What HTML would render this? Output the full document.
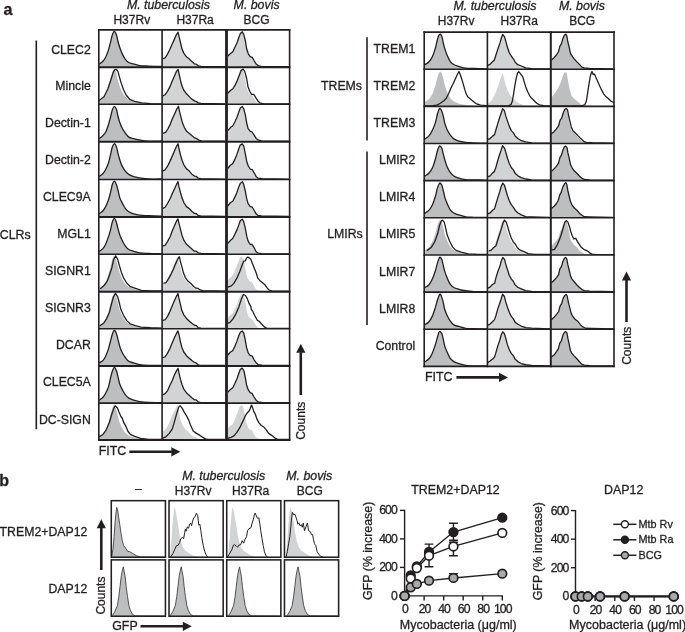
<!DOCTYPE html>
<html lang="en"><head><meta charset="utf-8"><title>Figure</title>
<style>html,body{margin:0;padding:0;background:#fff}body{width:685px;height:632px;overflow:hidden}svg{display:block}text{font-family:"Liberation Sans", Arial, Helvetica, sans-serif;fill:#231f20;stroke:#231f20;stroke-width:0.3px;stroke-linejoin:round}.t{font-size:12px}.i{font-size:12.35px;font-style:italic}.b{font-size:16px;font-weight:bold}.k{font-size:12.2px;letter-spacing:-0.9px}.r{font-size:12.3px}.g{font-size:12.4px}.x{font-size:12.5px}.lg{font-size:10.8px}</style></head><body>
<svg width="685" height="632" viewBox="0 0 685 632">
<rect width="685" height="632" fill="#fff"/>
<svg x="98.8" y="29.9" width="63.3" height="37.1" viewBox="98.8 29.9 63.3 37.1" overflow="hidden">
<g transform="translate(98.8 29.9)"><path d="M-0.1 34.31 L0.7 34.01C1.27 33.56 3.05 32.48 4.1 31.31C5.14 30.14 6.06 28.82 6.97 27.02C7.88 25.21 8.79 22.84 9.56 20.47C10.33 18.1 10.93 15.39 11.6 12.8C12.27 10.21 12.93 6.8 13.58 4.91C14.23 3.02 14.79 1.4 15.48 1.44C16.16 1.48 17.11 3.57 17.7 5.14C18.29 6.71 18.44 8.68 19.02 10.85C19.59 13.01 20.39 15.94 21.13 18.13C21.88 20.32 22.6 22.14 23.47 23.98C24.34 25.83 25.29 27.77 26.36 29.21C27.44 30.65 28.53 31.81 29.94 32.63C31.34 33.44 32.94 33.58 34.79 34.09C36.63 34.6 38.49 35.34 40.99 35.69C43.5 36.04 46.21 36.06 49.82 36.21C53.44 36.36 60.55 36.54 62.7 36.6L62.7 37.1 L-0.1 37.1 Z" fill="#bcbec0"/><path d="M0.7 34.01C1.27 33.56 3.05 32.48 4.1 31.31C5.14 30.14 6.06 28.82 6.97 27.02C7.88 25.21 8.79 22.84 9.56 20.47C10.33 18.1 10.93 15.39 11.6 12.8C12.27 10.21 12.93 6.8 13.58 4.91C14.23 3.02 14.79 1.4 15.48 1.44C16.16 1.48 17.11 3.57 17.7 5.14C18.29 6.71 18.44 8.68 19.02 10.85C19.59 13.01 20.39 15.94 21.13 18.13C21.88 20.32 22.6 22.14 23.47 23.98C24.34 25.83 25.29 27.77 26.36 29.21C27.44 30.65 28.53 31.81 29.94 32.63C31.34 33.44 32.94 33.58 34.79 34.09C36.63 34.6 38.49 35.34 40.99 35.69C43.5 36.04 46.21 36.06 49.82 36.21C53.44 36.36 60.55 36.54 62.7 36.6" fill="none" stroke="#231f20" stroke-width="1.3" stroke-linejoin="round" stroke-linecap="round"/></g>
</svg>
<svg x="162.1" y="29.9" width="64.4" height="37.1" viewBox="162.1 29.9 64.4 37.1" overflow="hidden">
<g transform="translate(162.1 29.9)"><path d="M0 29.02 L0.8 28.72L2.96 28.01L5.27 24.46L7.81 19.28L9.88 14.67L12.43 8.96L14.34 4.66L15.96 2.37L16.92 6.43L18.51 13.08L19.74 18.69L21.69 23.23L24.38 26.88L27.3 29.21L29.85 31.64L32.32 33.87L34.14 34.33L36.23 35.92L38.69 36.55L62.5 36.7L62.5 37.1 L0 37.1 Z" fill="#d1d3d4"/><path d="M0.8 28.72L2.96 28.01L5.27 24.46L7.81 19.28L9.88 14.67L12.43 8.96L14.34 4.66L15.96 2.37L16.92 6.43L18.51 13.08L19.74 18.69L21.69 23.23L24.38 26.88L27.3 29.21L29.85 31.64L32.32 33.87L34.14 34.33L36.23 35.92L38.69 36.55L62.5 36.7" fill="none" stroke="#231f20" stroke-width="1.3" stroke-linejoin="round" stroke-linecap="round"/></g>
</svg>
<svg x="226.5" y="29.9" width="63.1" height="37.1" viewBox="226.5 29.9 63.1 37.1" overflow="hidden">
<g transform="translate(226.5 29.9)"><path d="M0.8 26.23 L1.6 25.93L4.03 23.64L6.35 21.73L8.36 17.29L10.45 13.15L12.24 7.77L13.85 3.62L15.79 1.91L17.19 4.49L18.88 10.81L20.12 18.83L21.81 23.87L23.68 26.68L25.82 27.46L27.81 31.11L29.67 34.17L31.82 35.72L35 36.78L62 36.7L62 37.1 L0.8 37.1 Z" fill="#d1d3d4"/><path d="M1.6 25.93L4.03 23.64L6.35 21.73L8.36 17.29L10.45 13.15L12.24 7.77L13.85 3.62L15.79 1.91L17.19 4.49L18.88 10.81L20.12 18.83L21.81 23.87L23.68 26.68L25.82 27.46L27.81 31.11L29.67 34.17L31.82 35.72L35 36.78L62 36.7" fill="none" stroke="#231f20" stroke-width="1.3" stroke-linejoin="round" stroke-linecap="round"/></g>
</svg>
<svg x="98.8" y="67" width="63.3" height="37.3" viewBox="98.8 67 63.3 37.3" overflow="hidden">
<g transform="translate(98.8 67)"><path d="M0.05 34.49 L0.85 34.19L4.17 31.39L7.05 26.91L9.41 20.61L11.4 12.84L13.38 5.14L15.36 1.98L17.28 5.22L18.57 11.24L20.62 18.39L23.05 24.29L25.85 29.01L29.31 32.35L33.9 34.23L39.75 35.82L48.35 36.5L60.99 36.8L60.99 37.3 L0.05 37.3 Z" fill="#bcbec0"/><path d="M0.7 33.29L5.2 29.78L9.1 21.76L12.1 12.83L14.6 4.91L16.1 2.71L17.6 2.41L19.1 4.41L20.6 9.83L22.5 16.34L24.5 22.26L27.5 28.28L31 32.29L35.9 34.29L42.9 35.9L51.8 36.6L62.7 36.8" fill="none" stroke="#231f20" stroke-width="1.3" stroke-linejoin="round" stroke-linecap="round"/></g>
</svg>
<svg x="162.1" y="67" width="64.4" height="37.3" viewBox="162.1 67 64.4 37.3" overflow="hidden">
<g transform="translate(162.1 67)"><path d="M0 29.18 L0.8 28.88L2.9 27.77L5.36 24.33L8.01 19.37L9.79 14.71L12.35 8.98L14.29 4.63L16.05 2.42L16.9 6.6L18.28 12.89L19.73 18.56L21.7 23.26L24.44 26.79L27.19 29.6L29.66 32.11L32.44 33.91L34.26 34.51L36.16 35.85L38.78 36.5L62.5 36.9L62.5 37.3 L0 37.3 Z" fill="#d1d3d4"/><path d="M0.8 28.88L2.9 27.77L5.36 24.33L8.01 19.37L9.79 14.71L12.35 8.98L14.29 4.63L16.05 2.42L16.9 6.6L18.28 12.89L19.73 18.56L21.7 23.26L24.44 26.79L27.19 29.6L29.66 32.11L32.44 33.91L34.26 34.51L36.16 35.85L38.78 36.5L62.5 36.9" fill="none" stroke="#231f20" stroke-width="1.3" stroke-linejoin="round" stroke-linecap="round"/></g>
</svg>
<svg x="226.5" y="67" width="63.1" height="37.3" viewBox="226.5 67 63.1 37.3" overflow="hidden">
<g transform="translate(226.5 67)"><path d="M1.02 26.37 L1.82 26.07L4.14 23.58L6.3 21.76L8.46 17.83L10.35 13.35L12.27 7.81L13.66 3.55L15.46 2.12L16.99 4.43L18.56 10.98L19.85 19.43L21.46 24.33L23.22 27.35L25.12 27.41L27.05 30.9L29.2 34.57L31.01 36.2L34.41 36.79L60.41 36.9L60.41 37.3 L1.02 37.3 Z" fill="#d1d3d4"/><path d="M1.37 26.07L3.95 23.58L6.36 21.76L8.77 17.83L10.87 13.35L13.01 7.81L14.55 3.55L16.56 2.12L18.26 4.43L20.01 10.98L21.44 19.43L23.24 24.33L25.2 27.35L27.31 27.41L29.46 30.9L31.85 34.57L33.87 36.2L37.65 36.79L66.6 36.9" fill="none" stroke="#231f20" stroke-width="1.3" stroke-linejoin="round" stroke-linecap="round"/></g>
</svg>
<svg x="98.8" y="104.3" width="63.3" height="37.2" viewBox="98.8 104.3 63.3 37.2" overflow="hidden">
<g transform="translate(98.8 104.3)"><path d="M-0.1 34.4 L0.7 34.1C1.29 33.63 3.17 32.39 4.25 31.25C5.33 30.11 6.29 29.01 7.18 27.25C8.08 25.48 8.84 23.04 9.59 20.65C10.34 18.26 11 15.5 11.69 12.91C12.37 10.32 13.04 6.92 13.69 5.1C14.34 3.28 14.89 1.98 15.57 1.98C16.24 1.99 17.16 3.6 17.73 5.14C18.31 6.68 18.47 9.11 19 11.23C19.53 13.36 20.13 15.71 20.9 17.88C21.66 20.04 22.64 22.42 23.59 24.24C24.54 26.06 25.52 27.36 26.6 28.79C27.67 30.21 28.66 31.87 30.05 32.79C31.43 33.71 33.13 33.83 34.91 34.31C36.7 34.79 38.27 35.27 40.75 35.68C43.24 36.09 46.19 36.61 49.84 36.78C53.5 36.95 60.56 36.71 62.7 36.7L62.7 37.2 L-0.1 37.2 Z" fill="#bcbec0"/><path d="M0.7 34.1C1.29 33.63 3.17 32.39 4.25 31.25C5.33 30.11 6.29 29.01 7.18 27.25C8.08 25.48 8.84 23.04 9.59 20.65C10.34 18.26 11 15.5 11.69 12.91C12.37 10.32 13.04 6.92 13.69 5.1C14.34 3.28 14.89 1.98 15.57 1.98C16.24 1.99 17.16 3.6 17.73 5.14C18.31 6.68 18.47 9.11 19 11.23C19.53 13.36 20.13 15.71 20.9 17.88C21.66 20.04 22.64 22.42 23.59 24.24C24.54 26.06 25.52 27.36 26.6 28.79C27.67 30.21 28.66 31.87 30.05 32.79C31.43 33.71 33.13 33.83 34.91 34.31C36.7 34.79 38.27 35.27 40.75 35.68C43.24 36.09 46.19 36.61 49.84 36.78C53.5 36.95 60.56 36.71 62.7 36.7" fill="none" stroke="#231f20" stroke-width="1.3" stroke-linejoin="round" stroke-linecap="round"/></g>
</svg>
<svg x="162.1" y="104.3" width="64.4" height="37.2" viewBox="162.1 104.3 64.4 37.2" overflow="hidden">
<g transform="translate(162.1 104.3)"><path d="M0 29.1 L0.8 28.8L3.13 28.02L5.51 24.46L7.81 19.8L9.84 14.45L12.43 8.94L14.38 4.56L16.02 1.98L16.89 6.51L18.52 13.15L19.93 18.55L21.81 23L24.16 27.01L27.2 29.46L29.89 31.7L32.29 33.6L34.22 34.34L36.21 35.8L38.79 36.63L62.5 36.8L62.5 37.2 L0 37.2 Z" fill="#d1d3d4"/><path d="M1.2 28.8L3.53 28.02L5.91 24.46L8.21 19.8L10.24 14.45L12.83 8.94L14.78 4.56L16.42 1.98L17.29 6.51L18.92 13.15L20.33 18.55L22.21 23L24.56 27.01L27.6 29.46L30.29 31.7L32.69 33.6L34.62 34.34L36.61 35.8L39.19 36.63L62.9 36.8" fill="none" stroke="#231f20" stroke-width="1.3" stroke-linejoin="round" stroke-linecap="round"/></g>
</svg>
<svg x="226.5" y="104.3" width="63.1" height="37.2" viewBox="226.5 104.3 63.1 37.2" overflow="hidden">
<g transform="translate(226.5 104.3)"><path d="M0.8 26.3 L1.6 26L3.92 23.26L6.23 21.65L8.3 17.76L10.38 13.14L12.28 7.85L13.8 3.77L15.86 2.21L17.31 4.67L18.93 11.09L20.31 19.22L21.63 24.27L23.83 27.04L25.59 27.7L27.68 30.77L29.62 34.14L31.75 35.64L35.22 36.77L62 36.8L62 37.2 L0.8 37.2 Z" fill="#d1d3d4"/><path d="M1.6 26L3.92 23.26L6.23 21.65L8.3 17.76L10.38 13.14L12.28 7.85L13.8 3.77L15.86 2.21L17.31 4.67L18.93 11.09L20.31 19.22L21.63 24.27L23.83 27.04L25.59 27.7L27.68 30.77L29.62 34.14L31.75 35.64L35.22 36.77L62 36.8" fill="none" stroke="#231f20" stroke-width="1.3" stroke-linejoin="round" stroke-linecap="round"/></g>
</svg>
<svg x="98.8" y="141.5" width="63.3" height="38" viewBox="98.8 141.5 63.3 38" overflow="hidden">
<g transform="translate(98.8 141.5)"><path d="M-0.1 35.13 L0.7 34.83C1.29 34.36 3.22 33.16 4.26 31.97C5.31 30.77 6.08 29.48 6.99 27.68C7.91 25.88 8.95 23.59 9.74 21.18C10.53 18.76 11.09 15.86 11.74 13.21C12.38 10.56 12.94 7.11 13.6 5.25C14.26 3.39 15.04 2.06 15.7 2.04C16.36 2.01 17.02 3.55 17.58 5.1C18.14 6.66 18.49 9.15 19.05 11.35C19.61 13.55 20.23 16.09 20.95 18.3C21.66 20.52 22.43 22.76 23.36 24.65C24.28 26.54 25.38 28.28 26.48 29.66C27.58 31.03 28.55 31.98 29.95 32.9C31.35 33.83 33.05 34.63 34.9 35.22C36.75 35.8 38.54 36.03 41.05 36.4C43.55 36.78 46.33 37.28 49.94 37.46C53.55 37.64 60.57 37.48 62.7 37.49L62.7 38 L-0.1 38 Z" fill="#bcbec0"/><path d="M0.7 34.83C1.29 34.36 3.22 33.16 4.26 31.97C5.31 30.77 6.08 29.48 6.99 27.68C7.91 25.88 8.95 23.59 9.74 21.18C10.53 18.76 11.09 15.86 11.74 13.21C12.38 10.56 12.94 7.11 13.6 5.25C14.26 3.39 15.04 2.06 15.7 2.04C16.36 2.01 17.02 3.55 17.58 5.1C18.14 6.66 18.49 9.15 19.05 11.35C19.61 13.55 20.23 16.09 20.95 18.3C21.66 20.52 22.43 22.76 23.36 24.65C24.28 26.54 25.38 28.28 26.48 29.66C27.58 31.03 28.55 31.98 29.95 32.9C31.35 33.83 33.05 34.63 34.9 35.22C36.75 35.8 38.54 36.03 41.05 36.4C43.55 36.78 46.33 37.28 49.94 37.46C53.55 37.64 60.57 37.48 62.7 37.49" fill="none" stroke="#231f20" stroke-width="1.3" stroke-linejoin="round" stroke-linecap="round"/></g>
</svg>
<svg x="162.1" y="141.5" width="64.4" height="38" viewBox="162.1 141.5 64.4 38" overflow="hidden">
<g transform="translate(162.1 141.5)"><path d="M0 29.72 L0.8 29.42L2.93 28.36L5.48 24.74L7.79 19.88L10.02 14.87L12.33 9.49L14.53 4.59L15.96 2.29L16.77 6.49L18.38 13.5L19.93 18.74L21.89 23.58L24.41 27.33L27.41 29.87L29.75 32.66L32.43 34.56L34.09 34.79L36.12 36.69L38.6 37.15L62.5 37.59L62.5 38 L0 38 Z" fill="#d1d3d4"/><path d="M0.8 29.42L2.93 28.36L5.48 24.74L7.79 19.88L10.02 14.87L12.33 9.49L14.53 4.59L15.96 2.29L16.77 6.49L18.38 13.5L19.93 18.74L21.89 23.58L24.41 27.33L27.41 29.87L29.75 32.66L32.43 34.56L34.09 34.79L36.12 36.69L38.6 37.15L62.5 37.59" fill="none" stroke="#231f20" stroke-width="1.3" stroke-linejoin="round" stroke-linecap="round"/></g>
</svg>
<svg x="226.5" y="141.5" width="63.1" height="38" viewBox="226.5 141.5 63.1 38" overflow="hidden">
<g transform="translate(226.5 141.5)"><path d="M0.8 26.86 L1.6 26.56L3.81 23.73L6.24 22.15L8.24 18.14L10.2 13.38L12.16 7.67L13.65 3.63L15.82 2.39L17.29 4.61L18.68 11.61L20.18 19.71L21.8 24.51L23.7 27.52L25.84 28.21L27.8 31.57L29.74 35.27L31.65 36.61L34.99 37.11L62 37.59L62 38 L0.8 38 Z" fill="#d1d3d4"/><path d="M1.6 26.56L3.81 23.73L6.24 22.15L8.24 18.14L10.2 13.38L12.16 7.67L13.65 3.63L15.82 2.39L17.29 4.61L18.68 11.61L20.18 19.71L21.8 24.51L23.7 27.52L25.84 28.21L27.8 31.57L29.74 35.27L31.65 36.61L34.99 37.11L62 37.59" fill="none" stroke="#231f20" stroke-width="1.3" stroke-linejoin="round" stroke-linecap="round"/></g>
</svg>
<svg x="98.8" y="179.5" width="63.3" height="37.2" viewBox="98.8 179.5 63.3 37.2" overflow="hidden">
<g transform="translate(98.8 179.5)"><path d="M-0.1 34.4 L0.7 34.1C1.3 33.62 3.22 32.45 4.27 31.24C5.32 30.03 6.09 28.69 7 26.85C7.9 25.02 8.93 22.51 9.7 20.25C10.48 18 11.01 15.85 11.65 13.32C12.29 10.79 12.87 7.03 13.52 5.07C14.18 3.11 14.91 1.59 15.59 1.58C16.26 1.56 16.98 3.43 17.58 4.99C18.19 6.56 18.67 8.73 19.24 10.96C19.81 13.19 20.28 16.24 21.01 18.38C21.75 20.53 22.73 22.1 23.64 23.85C24.55 25.6 25.4 27.49 26.46 28.89C27.51 30.28 28.56 31.28 29.96 32.2C31.37 33.12 33.08 33.8 34.9 34.38C36.72 34.97 38.43 35.42 40.9 35.72C43.37 36.02 46.1 36.04 49.73 36.2C53.36 36.37 60.54 36.62 62.7 36.7L62.7 37.2 L-0.1 37.2 Z" fill="#bcbec0"/><path d="M0.7 34.1C1.3 33.62 3.22 32.45 4.27 31.24C5.32 30.03 6.09 28.69 7 26.85C7.9 25.02 8.93 22.51 9.7 20.25C10.48 18 11.01 15.85 11.65 13.32C12.29 10.79 12.87 7.03 13.52 5.07C14.18 3.11 14.91 1.59 15.59 1.58C16.26 1.56 16.98 3.43 17.58 4.99C18.19 6.56 18.67 8.73 19.24 10.96C19.81 13.19 20.28 16.24 21.01 18.38C21.75 20.53 22.73 22.1 23.64 23.85C24.55 25.6 25.4 27.49 26.46 28.89C27.51 30.28 28.56 31.28 29.96 32.2C31.37 33.12 33.08 33.8 34.9 34.38C36.72 34.97 38.43 35.42 40.9 35.72C43.37 36.02 46.1 36.04 49.73 36.2C53.36 36.37 60.54 36.62 62.7 36.7" fill="none" stroke="#231f20" stroke-width="1.3" stroke-linejoin="round" stroke-linecap="round"/></g>
</svg>
<svg x="162.1" y="179.5" width="64.4" height="37.2" viewBox="162.1 179.5 64.4 37.2" overflow="hidden">
<g transform="translate(162.1 179.5)"><path d="M0 29.1 L0.8 28.8L2.97 27.75L5.26 24.23L7.82 19.48L9.91 14.65L12.45 9.25L14.51 4.83L15.85 2.13L16.79 6.89L18.44 13.23L19.9 18.33L21.84 23.24L24.39 27.14L27.31 29.28L29.9 32L32.4 33.98L34.32 34.25L36.26 36.01L38.56 36.44L62.5 36.8L62.5 37.2 L0 37.2 Z" fill="#d1d3d4"/><path d="M0.8 28.8L2.97 27.75L5.26 24.23L7.82 19.48L9.91 14.65L12.45 9.25L14.51 4.83L15.85 2.13L16.79 6.89L18.44 13.23L19.9 18.33L21.84 23.24L24.39 27.14L27.31 29.28L29.9 32L32.4 33.98L34.32 34.25L36.26 36.01L38.56 36.44L62.5 36.8" fill="none" stroke="#231f20" stroke-width="1.3" stroke-linejoin="round" stroke-linecap="round"/></g>
</svg>
<svg x="226.5" y="179.5" width="63.1" height="37.2" viewBox="226.5 179.5 63.1 37.2" overflow="hidden">
<g transform="translate(226.5 179.5)"><path d="M0.8 26.3 L1.6 26L3.86 23.28L6.4 21.56L8.34 17.64L10.35 13.18L12.15 7.59L13.87 3.88L15.81 2.2L17.17 4.8L18.73 11.24L20.13 18.84L21.61 24.14L23.84 27.14L25.66 27.5L27.76 30.99L29.74 34.56L31.57 35.99L35.03 36.39L62 36.8L62 37.2 L0.8 37.2 Z" fill="#d1d3d4"/><path d="M1.6 26L3.86 23.28L6.4 21.56L8.34 17.64L10.35 13.18L12.15 7.59L13.87 3.88L15.81 2.2L17.17 4.8L18.73 11.24L20.13 18.84L21.61 24.14L23.84 27.14L25.66 27.5L27.76 30.99L29.74 34.56L31.57 35.99L35.03 36.39L62 36.8" fill="none" stroke="#231f20" stroke-width="1.3" stroke-linejoin="round" stroke-linecap="round"/></g>
</svg>
<svg x="98.8" y="216.7" width="63.3" height="37.6" viewBox="98.8 216.7 63.3 37.6" overflow="hidden">
<g transform="translate(98.8 216.7)"><path d="M-0.1 34.77 L0.7 34.47C1.27 34.05 3.1 33.18 4.14 31.99C5.18 30.8 6.06 29.25 6.95 27.33C7.85 25.41 8.75 22.79 9.53 20.45C10.31 18.12 10.99 15.86 11.66 13.35C12.33 10.83 12.88 7.3 13.54 5.36C14.19 3.43 14.93 1.75 15.59 1.73C16.25 1.71 16.92 3.61 17.49 5.24C18.06 6.86 18.4 9.23 19.01 11.46C19.62 13.68 20.38 16.5 21.13 18.58C21.88 20.67 22.57 22.15 23.49 23.97C24.41 25.79 25.57 28.03 26.64 29.51C27.71 30.98 28.53 31.97 29.93 32.82C31.33 33.67 33.2 34.05 35.03 34.59C36.87 35.14 38.46 35.76 40.92 36.11C43.39 36.46 46.18 36.51 49.81 36.68C53.44 36.84 60.55 37.02 62.7 37.09L62.7 37.6 L-0.1 37.6 Z" fill="#bcbec0"/><path d="M0.7 34.47C1.27 34.05 3.1 33.18 4.14 31.99C5.18 30.8 6.06 29.25 6.95 27.33C7.85 25.41 8.75 22.79 9.53 20.45C10.31 18.12 10.99 15.86 11.66 13.35C12.33 10.83 12.88 7.3 13.54 5.36C14.19 3.43 14.93 1.75 15.59 1.73C16.25 1.71 16.92 3.61 17.49 5.24C18.06 6.86 18.4 9.23 19.01 11.46C19.62 13.68 20.38 16.5 21.13 18.58C21.88 20.67 22.57 22.15 23.49 23.97C24.41 25.79 25.57 28.03 26.64 29.51C27.71 30.98 28.53 31.97 29.93 32.82C31.33 33.67 33.2 34.05 35.03 34.59C36.87 35.14 38.46 35.76 40.92 36.11C43.39 36.46 46.18 36.51 49.81 36.68C53.44 36.84 60.55 37.02 62.7 37.09" fill="none" stroke="#231f20" stroke-width="1.3" stroke-linejoin="round" stroke-linecap="round"/></g>
</svg>
<svg x="162.1" y="216.7" width="64.4" height="37.6" viewBox="162.1 216.7 64.4 37.6" overflow="hidden">
<g transform="translate(162.1 216.7)"><path d="M0 29.41 L0.8 29.11L2.89 28.58L5.4 24.96L7.96 20.05L10.02 14.59L12.26 9.19L14.4 4.45L15.84 2.19L16.85 6.45L18.5 13.13L19.88 18.5L21.69 23.45L24.36 27.55L27.24 30.06L29.77 32.27L32.33 34.47L34.18 34.48L36.06 36.15L38.8 36.75L62.5 37.2L62.5 37.6 L0 37.6 Z" fill="#d1d3d4"/><path d="M0.8 29.11L2.89 28.58L5.4 24.96L7.96 20.05L10.02 14.59L12.26 9.19L14.4 4.45L15.84 2.19L16.85 6.45L18.5 13.13L19.88 18.5L21.69 23.45L24.36 27.55L27.24 30.06L29.77 32.27L32.33 34.47L34.18 34.48L36.06 36.15L38.8 36.75L62.5 37.2" fill="none" stroke="#231f20" stroke-width="1.3" stroke-linejoin="round" stroke-linecap="round"/></g>
</svg>
<svg x="226.5" y="216.7" width="63.1" height="37.6" viewBox="226.5 216.7 63.1 37.6" overflow="hidden">
<g transform="translate(226.5 216.7)"><path d="M0.8 26.58 L1.6 26.28L4.03 23.62L6.23 21.88L8.21 17.8L10.44 13.16L12.39 7.91L13.92 3.82L15.81 2.49L17.16 4.88L18.79 11.36L20.24 19.46L21.56 24.13L23.59 27.55L25.65 27.78L27.77 31.21L29.63 35.06L31.64 36.38L35.07 37.03L62 37.2L62 37.6 L0.8 37.6 Z" fill="#d1d3d4"/><path d="M1.6 26.28L4.03 23.62L6.23 21.88L8.21 17.8L10.44 13.16L12.39 7.91L13.92 3.82L15.81 2.49L17.16 4.88L18.79 11.36L20.24 19.46L21.56 24.13L23.59 27.55L25.65 27.78L27.77 31.21L29.63 35.06L31.64 36.38L35.07 37.03L62 37.2" fill="none" stroke="#231f20" stroke-width="1.3" stroke-linejoin="round" stroke-linecap="round"/></g>
</svg>
<svg x="98.8" y="254.3" width="63.3" height="37.2" viewBox="98.8 254.3 63.3 37.2" overflow="hidden">
<g transform="translate(98.8 254.3)"><path d="M0 34.4 L0.8 34.1L4.13 31.3L7.19 26.82L9.44 20.5L11.63 13.34L13.34 5.17L15.28 1.52L17.24 5.11L18.76 10.94L20.81 18.14L23.12 24.15L26.09 28.95L29.47 32.43L34.25 34.14L40.09 36.18L48.96 36.5L61.56 36.7L61.56 37.2 L0 37.2 Z" fill="#bcbec0"/><path d="M1.8 34.1L5.27 31.3L8.45 26.82L10.79 20.5L13.07 13.34L14.85 5.17L16.87 1.52L18.91 5.11L20.49 10.94L22.62 18.14L25.03 24.15L28.12 28.95L31.64 32.43L36.62 34.14L42.69 36.18L51.92 36.5L65.04 36.7" fill="none" stroke="#231f20" stroke-width="1.3" stroke-linejoin="round" stroke-linecap="round"/></g>
</svg>
<svg x="162.1" y="254.3" width="64.4" height="37.2" viewBox="162.1 254.3 64.4 37.2" overflow="hidden">
<g transform="translate(162.1 254.3)"><path d="M0.1 29.1 L0.9 28.8L2.97 28.22L5.33 24.36L7.84 19.54L9.92 14.87L12.13 9.32L14.29 4.42L15.69 2.44L16.53 6.65L18.27 13.03L19.62 18.8L21.4 23.28L23.83 26.77L26.92 29.51L29.38 32.26L31.85 33.89L33.65 34.17L35.67 35.62L38.16 36.44L61.36 36.8L61.36 37.2 L0.1 37.2 Z" fill="#d1d3d4"/><path d="M1.9 28.8L4.06 28.22L6.52 24.36L9.13 19.54L11.29 14.87L13.59 9.32L15.84 4.42L17.3 2.44L18.17 6.65L19.98 13.03L21.39 18.8L23.25 23.28L25.77 26.77L28.99 29.51L31.55 32.26L34.11 33.89L35.99 34.17L38.1 35.62L40.69 36.44L64.84 36.8" fill="none" stroke="#231f20" stroke-width="1.3" stroke-linejoin="round" stroke-linecap="round"/></g>
</svg>
<svg x="226.5" y="254.3" width="63.1" height="37.2" viewBox="226.5 254.3 63.1 37.2" overflow="hidden">
<g transform="translate(226.5 254.3)"><path d="M0.3 26.3 L1.1 26L3.34 23.59L5.73 21.58L7.86 17.68L9.67 12.87L11.82 7.61L13.22 3.63L15.15 2.26L16.79 4.58L18.34 11.38L19.69 19.33L21.12 23.84L23.26 27.28L25.06 27.38L27.25 31L29.13 34.35L31.33 36L34.46 36.44L61.5 36.8L61.5 37.2 L0.3 37.2 Z" fill="#d1d3d4"/><path d="M1.4 32.8L4.9 31.6L7.3 29.1L10.3 24.1L13.3 17.2L15.8 10.2L17.3 6.8L18.8 6.6L20.1 3.8L21.4 2.8L22.7 3.6L24.2 4.8L25.7 8.7L27.7 13.7L29.7 18.7L31.2 23.6L33.2 26.1L35.7 28.1L38.1 30.1L40.6 33.6L42.6 35.7L45.1 36.6L62 36.8" fill="none" stroke="#231f20" stroke-width="1.3" stroke-linejoin="round" stroke-linecap="round"/></g>
</svg>
<svg x="98.8" y="291.5" width="63.3" height="37.2" viewBox="98.8 291.5 63.3 37.2" overflow="hidden">
<g transform="translate(98.8 291.5)"><path d="M0 34.4 L0.8 34.1L4.21 31.4L6.98 27.11L9.59 20.68L11.4 13.1L13.39 5.48L15.32 1.89L17.44 5.03L18.96 10.98L20.6 18.1L23.12 23.83L26.22 29.1L29.48 32.29L34.46 34.23L40.06 35.69L48.89 36.24L61.56 36.7L61.56 37.2 L0 37.2 Z" fill="#bcbec0"/><path d="M1.5 34.1L5.05 31.4L7.94 27.11L10.65 20.68L12.53 13.1L14.6 5.48L16.62 1.89L18.82 5.03L20.41 10.98L22.11 18.1L24.73 23.83L27.95 29.1L31.35 32.29L36.53 34.23L42.37 35.69L51.55 36.24L64.74 36.7" fill="none" stroke="#231f20" stroke-width="1.3" stroke-linejoin="round" stroke-linecap="round"/></g>
</svg>
<svg x="162.1" y="291.5" width="64.4" height="37.2" viewBox="162.1 291.5 64.4 37.2" overflow="hidden">
<g transform="translate(162.1 291.5)"><path d="M0 29.1 L0.8 28.8L3.12 28.24L5.55 24.64L7.85 19.86L10.03 14.41L12.26 9.25L14.36 4.8L15.85 2.12L16.75 6.4L18.36 12.97L19.69 18.87L21.71 23.28L24.4 26.91L27.28 29.69L29.79 31.73L32.43 33.72L34.16 34.02L36.06 36.14L38.79 36.55L62.5 36.8L62.5 37.2 L0 37.2 Z" fill="#d1d3d4"/><path d="M0.8 28.8L3.12 28.24L5.55 24.64L7.85 19.86L10.03 14.41L12.26 9.25L14.36 4.8L15.85 2.12L16.75 6.4L18.36 12.97L19.69 18.87L21.71 23.28L24.4 26.91L27.28 29.69L29.79 31.73L32.43 33.72L34.16 34.02L36.06 36.14L38.79 36.55L62.5 36.8" fill="none" stroke="#231f20" stroke-width="1.3" stroke-linejoin="round" stroke-linecap="round"/></g>
</svg>
<svg x="226.5" y="291.5" width="63.1" height="37.2" viewBox="226.5 291.5 63.1 37.2" overflow="hidden">
<g transform="translate(226.5 291.5)"><path d="M0.8 26.3 L1.6 26L3.76 23.66L6.17 21.52L8.23 17.85L10.42 13.25L12.23 7.5L13.84 3.97L15.86 2.06L17.23 4.59L18.88 10.8L20.24 19.35L21.56 24.27L23.69 26.84L25.84 27.77L27.63 30.93L29.7 34.36L31.6 36.16L35.17 36.78L62 36.8L62 37.2 L0.8 37.2 Z" fill="#d1d3d4"/><path d="M1 31.8L3.5 30.8L6.5 27.3L9.4 22.3L12.4 15.4L14.9 7.4L16.9 3L18.9 4L20.9 7.4L22.8 12.4L24.3 14.9L24.8 17.9L26.3 19.9L28.3 24.3L30.8 28.8L32.3 29.5L35.3 32.8L38.2 35.7L40.2 36.6L62 36.8" fill="none" stroke="#231f20" stroke-width="1.3" stroke-linejoin="round" stroke-linecap="round"/></g>
</svg>
<svg x="98.8" y="328.7" width="63.3" height="37.2" viewBox="98.8 328.7 63.3 37.2" overflow="hidden">
<g transform="translate(98.8 328.7)"><path d="M-0.1 34.4 L0.7 34.1C1.3 33.7 3.22 32.87 4.28 31.69C5.34 30.52 6.17 28.95 7.05 27.06C7.93 25.18 8.82 22.69 9.56 20.39C10.3 18.09 10.79 15.83 11.47 13.27C12.16 10.71 13.01 6.97 13.68 5.02C14.34 3.06 14.81 1.56 15.47 1.55C16.13 1.53 16.99 3.35 17.62 4.92C18.24 6.49 18.66 8.76 19.24 11C19.83 13.23 20.46 16.19 21.15 18.33C21.83 20.47 22.48 22.12 23.38 23.86C24.27 25.6 25.4 27.3 26.5 28.76C27.6 30.22 28.59 31.71 29.98 32.63C31.38 33.54 33.05 33.68 34.88 34.24C36.7 34.8 38.45 35.57 40.95 35.97C43.46 36.37 46.28 36.53 49.9 36.65C53.53 36.77 60.57 36.69 62.7 36.7L62.7 37.2 L-0.1 37.2 Z" fill="#bcbec0"/><path d="M0.7 34.1C1.3 33.7 3.22 32.87 4.28 31.69C5.34 30.52 6.17 28.95 7.05 27.06C7.93 25.18 8.82 22.69 9.56 20.39C10.3 18.09 10.79 15.83 11.47 13.27C12.16 10.71 13.01 6.97 13.68 5.02C14.34 3.06 14.81 1.56 15.47 1.55C16.13 1.53 16.99 3.35 17.62 4.92C18.24 6.49 18.66 8.76 19.24 11C19.83 13.23 20.46 16.19 21.15 18.33C21.83 20.47 22.48 22.12 23.38 23.86C24.27 25.6 25.4 27.3 26.5 28.76C27.6 30.22 28.59 31.71 29.98 32.63C31.38 33.54 33.05 33.68 34.88 34.24C36.7 34.8 38.45 35.57 40.95 35.97C43.46 36.37 46.28 36.53 49.9 36.65C53.53 36.77 60.57 36.69 62.7 36.7" fill="none" stroke="#231f20" stroke-width="1.3" stroke-linejoin="round" stroke-linecap="round"/></g>
</svg>
<svg x="162.1" y="328.7" width="64.4" height="37.2" viewBox="162.1 328.7 64.4 37.2" overflow="hidden">
<g transform="translate(162.1 328.7)"><path d="M0 29.1 L0.8 28.8L2.89 28.1L5.34 24.7L7.86 19.64L9.81 14.74L12.32 8.95L14.52 4.49L15.85 2.25L17.05 6.54L18.32 13.1L19.85 18.79L21.68 23.29L24.4 26.98L27.42 29.7L29.74 31.72L32.21 33.57L34.22 34.48L36.16 36.16L38.68 36.82L62.5 36.8L62.5 37.2 L0 37.2 Z" fill="#d1d3d4"/><path d="M0.8 28.8L2.89 28.1L5.34 24.7L7.86 19.64L9.81 14.74L12.32 8.95L14.52 4.49L15.85 2.25L17.05 6.54L18.32 13.1L19.85 18.79L21.68 23.29L24.4 26.98L27.42 29.7L29.74 31.72L32.21 33.57L34.22 34.48L36.16 36.16L38.68 36.82L62.5 36.8" fill="none" stroke="#231f20" stroke-width="1.3" stroke-linejoin="round" stroke-linecap="round"/></g>
</svg>
<svg x="226.5" y="328.7" width="63.1" height="37.2" viewBox="226.5 328.7 63.1 37.2" overflow="hidden">
<g transform="translate(226.5 328.7)"><path d="M0.8 26.3 L1.6 26L3.98 23.36L6.18 22.07L8.34 17.66L10.26 12.93L12.21 7.38L13.83 3.55L15.71 2.29L17.25 4.41L18.71 11.21L20.11 18.99L21.71 24.18L23.58 26.74L25.72 27.44L27.58 31.08L29.76 34.2L31.63 35.85L35.24 36.48L62 36.8L62 37.2 L0.8 37.2 Z" fill="#d1d3d4"/><path d="M1.6 26L3.98 23.36L6.18 22.07L8.34 17.66L10.26 12.93L12.21 7.38L13.83 3.55L15.71 2.29L17.25 4.41L18.71 11.21L20.11 18.99L21.71 24.18L23.58 26.74L25.72 27.44L27.58 31.08L29.76 34.2L31.63 35.85L35.24 36.48L62 36.8" fill="none" stroke="#231f20" stroke-width="1.3" stroke-linejoin="round" stroke-linecap="round"/></g>
</svg>
<svg x="98.8" y="365.9" width="63.3" height="37.2" viewBox="98.8 365.9 63.3 37.2" overflow="hidden">
<g transform="translate(98.8 365.9)"><path d="M-0.1 34.4 L0.7 34.1C1.29 33.65 3.16 32.59 4.22 31.39C5.28 30.19 6.15 28.69 7.07 26.91C8 25.14 9.01 23.03 9.75 20.72C10.49 18.4 10.88 15.58 11.51 13.02C12.14 10.45 12.81 7.27 13.51 5.34C14.21 3.4 15.02 1.43 15.72 1.4C16.42 1.37 17.11 3.55 17.7 5.15C18.28 6.76 18.68 8.89 19.21 11.04C19.75 13.2 20.18 15.97 20.9 18.08C21.62 20.19 22.56 21.87 23.52 23.71C24.47 25.54 25.54 27.66 26.62 29.08C27.71 30.51 28.66 31.38 30.04 32.25C31.42 33.13 33.1 33.75 34.9 34.32C36.7 34.89 38.33 35.32 40.83 35.69C43.34 36.05 46.28 36.34 49.93 36.51C53.57 36.68 60.57 36.67 62.7 36.7L62.7 37.2 L-0.1 37.2 Z" fill="#bcbec0"/><path d="M0.7 34.1C1.29 33.65 3.16 32.59 4.22 31.39C5.28 30.19 6.15 28.69 7.07 26.91C8 25.14 9.01 23.03 9.75 20.72C10.49 18.4 10.88 15.58 11.51 13.02C12.14 10.45 12.81 7.27 13.51 5.34C14.21 3.4 15.02 1.43 15.72 1.4C16.42 1.37 17.11 3.55 17.7 5.15C18.28 6.76 18.68 8.89 19.21 11.04C19.75 13.2 20.18 15.97 20.9 18.08C21.62 20.19 22.56 21.87 23.52 23.71C24.47 25.54 25.54 27.66 26.62 29.08C27.71 30.51 28.66 31.38 30.04 32.25C31.42 33.13 33.1 33.75 34.9 34.32C36.7 34.89 38.33 35.32 40.83 35.69C43.34 36.05 46.28 36.34 49.93 36.51C53.57 36.68 60.57 36.67 62.7 36.7" fill="none" stroke="#231f20" stroke-width="1.3" stroke-linejoin="round" stroke-linecap="round"/></g>
</svg>
<svg x="162.1" y="365.9" width="64.4" height="37.2" viewBox="162.1 365.9 64.4 37.2" overflow="hidden">
<g transform="translate(162.1 365.9)"><path d="M0 29.1 L0.8 28.8L3 27.77L5.54 24.68L7.79 19.42L10.04 14.87L12.27 9.09L14.37 4.96L15.94 2.44L16.8 6.79L18.32 13.27L19.9 18.54L21.7 23.2L24.27 26.83L27.27 29.51L29.72 31.77L32.42 33.93L34.22 33.92L36.06 36.05L38.59 36.8L62.5 36.8L62.5 37.2 L0 37.2 Z" fill="#d1d3d4"/><path d="M0.8 28.8L3 27.77L5.54 24.68L7.79 19.42L10.04 14.87L12.27 9.09L14.37 4.96L15.94 2.44L16.8 6.79L18.32 13.27L19.9 18.54L21.7 23.2L24.27 26.83L27.27 29.51L29.72 31.77L32.42 33.93L34.22 33.92L36.06 36.05L38.59 36.8L62.5 36.8" fill="none" stroke="#231f20" stroke-width="1.3" stroke-linejoin="round" stroke-linecap="round"/></g>
</svg>
<svg x="226.5" y="365.9" width="63.1" height="37.2" viewBox="226.5 365.9 63.1 37.2" overflow="hidden">
<g transform="translate(226.5 365.9)"><path d="M0.8 26.3 L1.6 26L3.92 23.56L6.24 21.88L8.32 17.55L10.35 13.06L12.28 7.57L13.84 3.41L15.72 2.19L17.38 4.86L18.7 11.07L20.08 19.08L21.68 23.78L23.68 26.76L25.56 27.51L27.57 31.08L29.78 34.54L31.57 35.91L35.06 36.6L62 36.8L62 37.2 L0.8 37.2 Z" fill="#d1d3d4"/><path d="M1.6 26L3.92 23.56L6.24 21.88L8.32 17.55L10.35 13.06L12.28 7.57L13.84 3.41L15.72 2.19L17.38 4.86L18.7 11.07L20.08 19.08L21.68 23.78L23.68 26.76L25.56 27.51L27.57 31.08L29.78 34.54L31.57 35.91L35.06 36.6L62 36.8" fill="none" stroke="#231f20" stroke-width="1.3" stroke-linejoin="round" stroke-linecap="round"/></g>
</svg>
<svg x="98.8" y="403.1" width="63.3" height="36.8" viewBox="98.8 403.1 63.3 36.8" overflow="hidden">
<g transform="translate(98.8 403.1)"><path d="M-0.05 34.03 L0.75 33.73L4.04 31.43L7.1 26.92L9.47 20.42L11.46 12.78L13.4 5.14L15.11 1.93L17.27 5.32L18.55 10.72L20.34 18.06L22.8 23.98L25.67 28.88L29.29 32.15L33.85 33.86L39.69 35.52L48.28 35.83L60.89 36.31L60.89 36.8 L-0.05 36.8 Z" fill="#bcbec0"/><path d="M0.7 33.54L4.2 31.36L7.6 26.41L10.6 19.09L13.1 10.68L15.1 4.85L16.3 2.67L18.6 4.85L20.1 8.71L22 13.16L23.5 15.14L25 19.59L27 22.95L29 27.9L31.5 31.36L35.9 33.34L41.9 35.32L49.9 36.21L62.7 36.4" fill="none" stroke="#231f20" stroke-width="1.3" stroke-linejoin="round" stroke-linecap="round"/></g>
</svg>
<svg x="162.1" y="403.1" width="64.4" height="36.8" viewBox="162.1 403.1 64.4 36.8" overflow="hidden">
<g transform="translate(162.1 403.1)"><path d="M-0.7 28.79 L0.1 28.49L2.43 27.5L4.82 24.34L7.29 19.19L9.21 14.21L11.66 9.08L13.72 4.87L15.31 2.22L16.35 6.29L17.67 13.04L19.03 18.58L21.12 23.04L23.68 26.63L26.5 29.15L28.96 31.8L31.53 33.63L33.65 33.91L35.55 35.56L37.85 36.1L61.8 36.4L61.8 36.8 L-0.7 36.8 Z" fill="#d1d3d4"/><path d="M0.8 35.02L3.8 33.73L7.2 30.27L10.2 25.82L12.5 18L14.7 10.09L16.7 3.76L18 2.57L20.2 5.24L22.1 9.1L24.6 13.06L26.6 17.02L28.6 22.36L31.1 27.8L33.6 29.78L37 31.75L40.5 34.23L43.5 35.81L46 36.31L62.5 36.4" fill="none" stroke="#231f20" stroke-width="1.3" stroke-linejoin="round" stroke-linecap="round"/></g>
</svg>
<svg x="226.5" y="403.1" width="63.1" height="36.8" viewBox="226.5 403.1 63.1 36.8" overflow="hidden">
<g transform="translate(226.5 403.1)"><path d="M0.3 26.02 L1.1 25.72L3.29 22.97L5.78 21.63L7.92 17.42L9.72 12.74L11.66 7.61L13.26 3.36L15.26 1.94L16.83 4.49L18.21 11.03L19.69 18.97L21.33 23.53L23.09 26.56L25.24 26.96L27.28 30.89L29.13 33.97L31.24 35.22L34.56 36.24L61.5 36.4L61.5 36.8 L0.3 36.8 Z" fill="#d1d3d4"/><path d="M1 35.22L4.5 34.23L7.4 32.74L10.4 29.28L13.4 24.34L16.4 18L18.9 12.56L20.9 9.6L22.8 7.62L23.8 5.24L25 1.98L26.3 5.24L27.3 8.61L28.8 11.08L30.3 15.53L32.3 19.49L34.8 22.36L37.2 23.84L39.7 26.81L42.2 30.27L45.2 32.25L48.2 34.72L50.6 36.01L53.1 36.4L62 36.4" fill="none" stroke="#231f20" stroke-width="1.3" stroke-linejoin="round" stroke-linecap="round"/></g>
</svg>
<path d="M98 29.9H290.4" stroke="#231f20" stroke-width="1.6" fill="none"/>
<path d="M98 67.2H290.4" stroke="#231f20" stroke-width="2" fill="none"/>
<path d="M98 104.3H290.4" stroke="#231f20" stroke-width="1.6" fill="none"/>
<path d="M98 141.7H290.4" stroke="#231f20" stroke-width="2" fill="none"/>
<path d="M98 179.5H290.4" stroke="#231f20" stroke-width="1.6" fill="none"/>
<path d="M98 216.9H290.4" stroke="#231f20" stroke-width="2" fill="none"/>
<path d="M98 254.3H290.4" stroke="#231f20" stroke-width="1.6" fill="none"/>
<path d="M98 291.7H290.4" stroke="#231f20" stroke-width="2" fill="none"/>
<path d="M98 328.7H290.4" stroke="#231f20" stroke-width="1.6" fill="none"/>
<path d="M98 366.1H290.4" stroke="#231f20" stroke-width="2" fill="none"/>
<path d="M98 403.1H290.4" stroke="#231f20" stroke-width="1.6" fill="none"/>
<path d="M98 440.1H290.4" stroke="#231f20" stroke-width="2" fill="none"/>
<path d="M98.8 29.1V440.7" stroke="#231f20" stroke-width="1.6" fill="none"/>
<path d="M162.1 29.1V440.7" stroke="#231f20" stroke-width="1.6" fill="none"/>
<path d="M226.5 29.1V440.7" stroke="#231f20" stroke-width="2.8" fill="none"/>
<path d="M289.6 29.1V440.7" stroke="#231f20" stroke-width="1.6" fill="none"/>
<svg x="424.2" y="32.1" width="63.2" height="37.14" viewBox="424.2 32.1 63.2 37.14" overflow="hidden">
<g transform="translate(424.2 32.1)"><path d="M0 32.85 L0.8 32.55C1.46 32.06 3.54 31.01 4.78 29.64C6.03 28.27 7.18 26.68 8.27 24.32C9.36 21.97 10.5 18.34 11.32 15.52C12.14 12.71 12.66 9.46 13.21 7.41C13.76 5.37 14.14 4.14 14.62 3.24C15.1 2.34 15.57 1.82 16.08 2.03C16.6 2.24 17.21 3.01 17.72 4.5C18.22 5.99 18.59 8.86 19.09 10.95C19.6 13.03 20.06 14.89 20.73 16.99C21.41 19.1 22.26 21.52 23.14 23.57C24.02 25.61 24.94 27.76 26 29.24C27.07 30.72 28.09 31.59 29.54 32.43C30.99 33.27 32.71 33.66 34.72 34.27C36.72 34.89 39.08 35.78 41.56 36.11C44.05 36.44 46.08 36.14 49.6 36.25C53.13 36.35 60.52 36.66 62.7 36.74L62.7 37.14 L0 37.14 Z" fill="#bcbec0"/><path d="M0.8 32.55C1.46 32.06 3.54 31.01 4.78 29.64C6.03 28.27 7.18 26.68 8.27 24.32C9.36 21.97 10.5 18.34 11.32 15.52C12.14 12.71 12.66 9.46 13.21 7.41C13.76 5.37 14.14 4.14 14.62 3.24C15.1 2.34 15.57 1.82 16.08 2.03C16.6 2.24 17.21 3.01 17.72 4.5C18.22 5.99 18.59 8.86 19.09 10.95C19.6 13.03 20.06 14.89 20.73 16.99C21.41 19.1 22.26 21.52 23.14 23.57C24.02 25.61 24.94 27.76 26 29.24C27.07 30.72 28.09 31.59 29.54 32.43C30.99 33.27 32.71 33.66 34.72 34.27C36.72 34.89 39.08 35.78 41.56 36.11C44.05 36.44 46.08 36.14 49.6 36.25C53.13 36.35 60.52 36.66 62.7 36.74" fill="none" stroke="#231f20" stroke-width="1.3" stroke-linejoin="round" stroke-linecap="round"/></g>
</svg>
<svg x="487.4" y="32.1" width="63.4" height="37.14" viewBox="487.4 32.1 63.4 37.14" overflow="hidden">
<g transform="translate(487.4 32.1)"><path d="M0 33.35 L0.8 33.05L2.59 32.2L5.09 29.7L6.98 27.89L8.36 23.4L10.57 16.57L12.6 10.8L13.93 5.92L15.28 2.33L17.01 4.47L18.54 9.54L19.92 14.95L21.75 20.4L23.82 23.92L26.03 26.7L27.85 30.2L30.35 32.58L34.02 33.89L38.36 35.72L44.44 36.54L62.2 36.74L62.2 37.14 L0 37.14 Z" fill="#d1d3d4"/><path d="M0.8 33.05L2.59 32.2L5.09 29.7L6.98 27.89L8.36 23.4L10.57 16.57L12.6 10.8L13.93 5.92L15.28 2.33L17.01 4.47L18.54 9.54L19.92 14.95L21.75 20.4L23.82 23.92L26.03 26.7L27.85 30.2L30.35 32.58L34.02 33.89L38.36 35.72L44.44 36.54L62.2 36.74" fill="none" stroke="#231f20" stroke-width="1.3" stroke-linejoin="round" stroke-linecap="round"/></g>
</svg>
<svg x="550.8" y="32.1" width="63.2" height="37.14" viewBox="550.8 32.1 63.2 37.14" overflow="hidden">
<g transform="translate(550.8 32.1)"><path d="M0.4 27.66 L1.2 27.36L3.3 25.54L5.81 22.68L7.67 19.63L9.04 14.22L10.64 11.51L12.22 6.04L13.46 3.08L15.03 2.06L15.99 3.7L16.96 9.4L18.34 14.79L19.67 21.28L21.13 23.8L23.6 26.97L26.12 29.74L28.61 32.29L31.13 34.99L33.41 35.71L38.76 36.31L61.8 36.74L61.8 37.14 L0.4 37.14 Z" fill="#bcbec0"/><path d="M1.2 27.36L3.3 25.54L5.81 22.68L7.67 19.63L9.04 14.22L10.64 11.51L12.22 6.04L13.46 3.08L15.03 2.06L15.99 3.7L16.96 9.4L18.34 14.79L19.67 21.28L21.13 23.8L23.6 26.97L26.12 29.74L28.61 32.29L31.13 34.99L33.41 35.71L38.76 36.31L61.8 36.74" fill="none" stroke="#231f20" stroke-width="1.3" stroke-linejoin="round" stroke-linecap="round"/></g>
</svg>
<svg x="424.2" y="69.24" width="63.2" height="37.14" viewBox="424.2 69.24 63.2 37.14" overflow="hidden">
<g transform="translate(424.2 69.24)"><path d="M0.2 32.85 L1 32.55L5.09 29.76L8.5 24.14L11.34 15.75L13.28 7.45L14.81 3.45L16.18 2.19L17.83 4.51L19.46 10.55L20.85 17.09L23.3 23.84L26.34 29.26L29.77 32.27L34.88 34.51L41.76 35.85L49.61 36.56L62.9 36.74L62.9 37.14 L0.2 37.14 Z" fill="#bcbec0"/><path d="M0.8 36.64L8.7 36.44L12.7 35.94L16.2 34.04L19.7 31.55L22.1 29.05L24.6 24.06L26.6 19.17L28.6 15.18L31.1 9.68L33.1 5.29L34.8 2.3L36 5.29L37.5 9.68L39 14.68L40.5 20.17L42 24.56L43.5 27.56L46.5 30.05L49.5 32.55L52.4 34.74L56.4 35.94L62.4 36.44" fill="none" stroke="#231f20" stroke-width="1.3" stroke-linejoin="round" stroke-linecap="round"/></g>
</svg>
<svg x="487.4" y="69.24" width="63.4" height="37.14" viewBox="487.4 69.24 63.4 37.14" overflow="hidden">
<g transform="translate(487.4 69.24)"><path d="M0.3 34.34 L1.1 34.04L3.6 32.05L6.6 27.06L9.5 20.17L12 12.68L14 6.79L15.3 3.79L16.5 8.69L18 14.68L20 20.67L22.4 25.56L24.9 28.55L28.4 32.05L32.4 34.54L37.3 36.24L62 36.84L62 37.14 L0.3 37.14 Z" fill="#d1d3d4"/><path d="M0.6 36.64L21.4 36.44L23.6 35.34L24.9 32.05L26.2 24.56L27.4 16.67L28.9 8.69L30.2 3.79L31.4 2.3L32.9 4.29L35.4 7.69L36.8 12.68L38.3 17.67L40.3 22.56L42.3 26.56L44.3 29.05L46.3 31.05L49.3 34.04L52.2 35.64L56.2 36.44L62.2 36.64" fill="none" stroke="#231f20" stroke-width="1.3" stroke-linejoin="round" stroke-linecap="round"/></g>
</svg>
<svg x="550.8" y="69.24" width="63.2" height="37.14" viewBox="550.8 69.24 63.2 37.14" overflow="hidden">
<g transform="translate(550.8 69.24)"><path d="M0.4 27.86 L1.2 27.56L4.2 24.06L7.2 19.17L10.1 12.68L12.1 6.79L13.6 3.29L15.6 3.29L17.1 10.68L18.6 18.67L20.6 26.56L23.5 29.55L27 32.55L30 35.04L32 36.44L62 36.84L62 37.14 L0.4 37.14 Z" fill="#bcbec0"/><path d="M1.2 36.64L31 36.44L34 35.54L35.5 32.05L36.4 26.56L37.4 19.67L38.4 13.68L39.4 7.69L40.4 3.79L41.2 2.3L42.4 5.29L43.7 4.79L44.9 7.69L46.9 12.18L48.9 16.67L50.8 20.67L52.8 24.56L55.3 27.56L57.8 29.55L60.3 32.05L62.3 33.05L64 33.55" fill="none" stroke="#231f20" stroke-width="1.3" stroke-linejoin="round" stroke-linecap="round"/></g>
</svg>
<svg x="424.2" y="106.38" width="63.2" height="37.14" viewBox="424.2 106.38 63.2 37.14" overflow="hidden">
<g transform="translate(424.2 106.38)"><path d="M0 32.85 L0.8 32.55C1.49 32.01 3.71 30.77 4.94 29.31C6.17 27.86 7.11 26.05 8.17 23.82C9.22 21.6 10.45 18.63 11.29 15.96C12.12 13.3 12.6 9.97 13.18 7.83C13.76 5.69 14.29 4.07 14.74 3.11C15.2 2.15 15.44 1.79 15.91 2.06C16.38 2.33 17 3.3 17.56 4.73C18.12 6.15 18.76 8.53 19.29 10.62C19.81 12.72 20.07 15.12 20.7 17.29C21.33 19.46 22.18 21.72 23.09 23.64C23.99 25.57 25.03 27.36 26.13 28.84C27.23 30.31 28.26 31.5 29.67 32.49C31.08 33.48 32.6 34.21 34.58 34.79C36.56 35.37 39.1 35.7 41.57 35.99C44.05 36.27 45.9 36.37 49.42 36.49C52.94 36.62 60.49 36.7 62.7 36.74L62.7 37.14 L0 37.14 Z" fill="#bcbec0"/><path d="M0.8 32.55C1.49 32.01 3.71 30.77 4.94 29.31C6.17 27.86 7.11 26.05 8.17 23.82C9.22 21.6 10.45 18.63 11.29 15.96C12.12 13.3 12.6 9.97 13.18 7.83C13.76 5.69 14.29 4.07 14.74 3.11C15.2 2.15 15.44 1.79 15.91 2.06C16.38 2.33 17 3.3 17.56 4.73C18.12 6.15 18.76 8.53 19.29 10.62C19.81 12.72 20.07 15.12 20.7 17.29C21.33 19.46 22.18 21.72 23.09 23.64C23.99 25.57 25.03 27.36 26.13 28.84C27.23 30.31 28.26 31.5 29.67 32.49C31.08 33.48 32.6 34.21 34.58 34.79C36.56 35.37 39.1 35.7 41.57 35.99C44.05 36.27 45.9 36.37 49.42 36.49C52.94 36.62 60.49 36.7 62.7 36.74" fill="none" stroke="#231f20" stroke-width="1.3" stroke-linejoin="round" stroke-linecap="round"/></g>
</svg>
<svg x="487.4" y="106.38" width="63.4" height="37.14" viewBox="487.4 106.38 63.4 37.14" overflow="hidden">
<g transform="translate(487.4 106.38)"><path d="M0 33.35 L0.8 33.05L2.71 32.18L5.16 29.72L7.15 28.27L8.49 23.65L10.54 16.56L12.48 10.44L14.06 5.96L15.23 2.37L16.99 4.25L18.47 9.76L20.13 14.78L21.95 19.98L23.87 24.23L26.04 26.55L27.91 29.77L30.48 32.14L33.91 34.31L38.32 35.4L44.37 36.47L62.2 36.74L62.2 37.14 L0 37.14 Z" fill="#d1d3d4"/><path d="M0.8 33.05L2.71 32.18L5.16 29.72L7.15 28.27L8.49 23.65L10.54 16.56L12.48 10.44L14.06 5.96L15.23 2.37L16.99 4.25L18.47 9.76L20.13 14.78L21.95 19.98L23.87 24.23L26.04 26.55L27.91 29.77L30.48 32.14L33.91 34.31L38.32 35.4L44.37 36.47L62.2 36.74" fill="none" stroke="#231f20" stroke-width="1.3" stroke-linejoin="round" stroke-linecap="round"/></g>
</svg>
<svg x="550.8" y="106.38" width="63.2" height="37.14" viewBox="550.8 106.38 63.2 37.14" overflow="hidden">
<g transform="translate(550.8 106.38)"><path d="M0.4 27.66 L1.2 27.36L3.24 25.57L5.71 22.76L7.73 19.61L9.16 14L10.68 11.62L12.25 6.06L13.47 3.21L14.87 2.16L16.08 3.5L17.16 9.64L18.23 14.59L19.67 21L21.11 24.32L23.59 26.89L25.91 29.49L28.58 32.33L31.04 34.93L33.52 35.92L39.04 36.38L61.8 36.74L61.8 37.14 L0.4 37.14 Z" fill="#bcbec0"/><path d="M0.64 27.36L2.85 25.57L5.51 22.76L7.7 19.61L9.23 14L10.88 11.62L12.57 6.06L13.89 3.21L15.4 2.16L16.71 3.5L17.88 9.64L19.03 14.59L20.59 21L22.14 24.32L24.82 26.89L27.33 29.49L30.21 32.33L32.87 34.93L35.54 35.92L41.51 36.38L66.09 36.74" fill="none" stroke="#231f20" stroke-width="1.3" stroke-linejoin="round" stroke-linecap="round"/></g>
</svg>
<svg x="424.2" y="143.52" width="63.2" height="37.14" viewBox="424.2 143.52 63.2 37.14" overflow="hidden">
<g transform="translate(424.2 143.52)"><path d="M0 32.85 L0.8 32.55C1.47 32.03 3.59 30.85 4.84 29.46C6.09 28.08 7.25 26.55 8.29 24.25C9.34 21.95 10.34 18.41 11.14 15.66C11.94 12.9 12.5 9.74 13.09 7.72C13.67 5.69 14.18 4.36 14.66 3.49C15.13 2.63 15.44 2.3 15.93 2.51C16.43 2.71 17.1 3.36 17.63 4.72C18.16 6.07 18.58 8.61 19.11 10.64C19.63 12.66 20.11 14.74 20.77 16.87C21.42 19.01 22.14 21.42 23.02 23.43C23.91 25.44 24.99 27.42 26.09 28.93C27.2 30.45 28.23 31.55 29.64 32.5C31.05 33.46 32.56 34.02 34.56 34.64C36.55 35.26 39.1 35.93 41.61 36.2C44.11 36.47 46.08 36.19 49.6 36.28C53.11 36.37 60.52 36.66 62.7 36.74L62.7 37.14 L0 37.14 Z" fill="#bcbec0"/><path d="M0.8 32.55C1.47 32.03 3.59 30.85 4.84 29.46C6.09 28.08 7.25 26.55 8.29 24.25C9.34 21.95 10.34 18.41 11.14 15.66C11.94 12.9 12.5 9.74 13.09 7.72C13.67 5.69 14.18 4.36 14.66 3.49C15.13 2.63 15.44 2.3 15.93 2.51C16.43 2.71 17.1 3.36 17.63 4.72C18.16 6.07 18.58 8.61 19.11 10.64C19.63 12.66 20.11 14.74 20.77 16.87C21.42 19.01 22.14 21.42 23.02 23.43C23.91 25.44 24.99 27.42 26.09 28.93C27.2 30.45 28.23 31.55 29.64 32.5C31.05 33.46 32.56 34.02 34.56 34.64C36.55 35.26 39.1 35.93 41.61 36.2C44.11 36.47 46.08 36.19 49.6 36.28C53.11 36.37 60.52 36.66 62.7 36.74" fill="none" stroke="#231f20" stroke-width="1.3" stroke-linejoin="round" stroke-linecap="round"/></g>
</svg>
<svg x="487.4" y="143.52" width="63.4" height="37.14" viewBox="487.4 143.52 63.4 37.14" overflow="hidden">
<g transform="translate(487.4 143.52)"><path d="M0 33.35 L0.8 33.05L2.69 32.29L5.2 29.34L6.95 28.13L8.64 23.27L10.43 16.77L12.39 10.44L14.08 5.63L15.2 2.2L17.09 4.54L18.62 9.49L20.08 14.74L22.02 20.27L24 24.23L25.96 26.38L27.97 30.07L30.51 32.31L33.83 34.08L38.19 35.48L44.17 36.44L62.2 36.74L62.2 37.14 L0 37.14 Z" fill="#d1d3d4"/><path d="M0.8 33.05L2.69 32.29L5.2 29.34L6.95 28.13L8.64 23.27L10.43 16.77L12.39 10.44L14.08 5.63L15.2 2.2L17.09 4.54L18.62 9.49L20.08 14.74L22.02 20.27L24 24.23L25.96 26.38L27.97 30.07L30.51 32.31L33.83 34.08L38.19 35.48L44.17 36.44L62.2 36.74" fill="none" stroke="#231f20" stroke-width="1.3" stroke-linejoin="round" stroke-linecap="round"/></g>
</svg>
<svg x="550.8" y="143.52" width="63.2" height="37.14" viewBox="550.8 143.52 63.2 37.14" overflow="hidden">
<g transform="translate(550.8 143.52)"><path d="M0.4 27.66 L1.2 27.36L3.09 25.54L5.7 22.56L7.71 19.69L9.2 13.88L10.62 11.66L12.2 6.39L13.58 3.22L14.77 2.57L16.14 3.88L17.13 9.4L18.43 14.79L19.74 21.06L21.1 24.07L23.36 27.29L26.04 29.68L28.61 32.45L30.99 34.66L33.58 35.96L38.88 36.37L61.8 36.74L61.8 37.14 L0.4 37.14 Z" fill="#bcbec0"/><path d="M1.2 27.36L3.09 25.54L5.7 22.56L7.71 19.69L9.2 13.88L10.62 11.66L12.2 6.39L13.58 3.22L14.77 2.57L16.14 3.88L17.13 9.4L18.43 14.79L19.74 21.06L21.1 24.07L23.36 27.29L26.04 29.68L28.61 32.45L30.99 34.66L33.58 35.96L38.88 36.37L61.8 36.74" fill="none" stroke="#231f20" stroke-width="1.3" stroke-linejoin="round" stroke-linecap="round"/></g>
</svg>
<svg x="424.2" y="180.66" width="63.2" height="37.14" viewBox="424.2 180.66 63.2 37.14" overflow="hidden">
<g transform="translate(424.2 180.66)"><path d="M0 32.85 L0.8 32.55C1.47 32.04 3.59 30.89 4.82 29.51C6.04 28.12 7.08 26.53 8.14 24.26C9.2 21.98 10.34 18.63 11.17 15.87C12 13.11 12.52 9.79 13.13 7.69C13.74 5.59 14.35 4.18 14.84 3.3C15.34 2.42 15.62 2.16 16.09 2.39C16.55 2.62 17.12 3.33 17.65 4.69C18.17 6.05 18.7 8.47 19.23 10.56C19.75 12.66 20.13 15.13 20.79 17.25C21.44 19.37 22.28 21.28 23.17 23.29C24.05 25.29 25.05 27.79 26.11 29.28C27.18 30.78 28.14 31.45 29.54 32.28C30.94 33.11 32.51 33.6 34.51 34.25C36.51 34.9 39.02 35.8 41.53 36.19C44.05 36.59 46.06 36.54 49.59 36.64C53.11 36.73 60.51 36.72 62.7 36.74L62.7 37.14 L0 37.14 Z" fill="#bcbec0"/><path d="M0.8 32.55C1.47 32.04 3.59 30.89 4.82 29.51C6.04 28.12 7.08 26.53 8.14 24.26C9.2 21.98 10.34 18.63 11.17 15.87C12 13.11 12.52 9.79 13.13 7.69C13.74 5.59 14.35 4.18 14.84 3.3C15.34 2.42 15.62 2.16 16.09 2.39C16.55 2.62 17.12 3.33 17.65 4.69C18.17 6.05 18.7 8.47 19.23 10.56C19.75 12.66 20.13 15.13 20.79 17.25C21.44 19.37 22.28 21.28 23.17 23.29C24.05 25.29 25.05 27.79 26.11 29.28C27.18 30.78 28.14 31.45 29.54 32.28C30.94 33.11 32.51 33.6 34.51 34.25C36.51 34.9 39.02 35.8 41.53 36.19C44.05 36.59 46.06 36.54 49.59 36.64C53.11 36.73 60.51 36.72 62.7 36.74" fill="none" stroke="#231f20" stroke-width="1.3" stroke-linejoin="round" stroke-linecap="round"/></g>
</svg>
<svg x="487.4" y="180.66" width="63.4" height="37.14" viewBox="487.4 180.66 63.4 37.14" overflow="hidden">
<g transform="translate(487.4 180.66)"><path d="M0 33.35 L0.8 33.05L2.63 32.29L5.14 29.62L7.13 28.17L8.41 23.67L10.49 16.77L12.38 10.84L13.86 5.6L15.42 2.46L16.96 4.39L18.59 9.88L19.93 14.71L21.88 20.05L23.88 23.95L26.03 26.64L27.92 29.78L30.29 32.07L33.92 34.23L38.28 35.89L44.27 36.15L62.2 36.74L62.2 37.14 L0 37.14 Z" fill="#d1d3d4"/><path d="M0.8 33.05L2.63 32.29L5.14 29.62L7.13 28.17L8.41 23.67L10.49 16.77L12.38 10.84L13.86 5.6L15.42 2.46L16.96 4.39L18.59 9.88L19.93 14.71L21.88 20.05L23.88 23.95L26.03 26.64L27.92 29.78L30.29 32.07L33.92 34.23L38.28 35.89L44.27 36.15L62.2 36.74" fill="none" stroke="#231f20" stroke-width="1.3" stroke-linejoin="round" stroke-linecap="round"/></g>
</svg>
<svg x="550.8" y="180.66" width="63.2" height="37.14" viewBox="550.8 180.66 63.2 37.14" overflow="hidden">
<g transform="translate(550.8 180.66)"><path d="M0.4 27.66 L1.2 27.36L3.33 25.61L5.69 22.85L7.48 19.62L9.01 14.26L10.45 11.47L12.16 5.99L13.74 3.07L15.01 2.05L15.96 3.57L17.02 9.82L18.21 14.82L19.68 20.9L21.21 24.19L23.38 27.19L26.06 29.63L28.63 32.52L31.14 34.6L33.35 36.07L38.95 36.25L61.8 36.74L61.8 37.14 L0.4 37.14 Z" fill="#bcbec0"/><path d="M1.2 27.36L3.33 25.61L5.69 22.85L7.48 19.62L9.01 14.26L10.45 11.47L12.16 5.99L13.74 3.07L15.01 2.05L15.96 3.57L17.02 9.82L18.21 14.82L19.68 20.9L21.21 24.19L23.38 27.19L26.06 29.63L28.63 32.52L31.14 34.6L33.35 36.07L38.95 36.25L61.8 36.74" fill="none" stroke="#231f20" stroke-width="1.3" stroke-linejoin="round" stroke-linecap="round"/></g>
</svg>
<svg x="424.2" y="217.8" width="63.2" height="37.14" viewBox="424.2 217.8 63.2 37.14" overflow="hidden">
<g transform="translate(424.2 217.8)"><path d="M0 32.85 L0.8 32.55L4.67 29.74L8.27 23.95L11.31 15.47L13.07 7.68L14.72 3.22L16.05 2.26L17.79 4.58L19.24 10.6L20.68 17.25L23.19 23.49L26.19 29.32L29.54 32.59L34.74 34.28L41.6 36.06L49.53 36.44L62.7 36.74L62.7 37.14 L0 37.14 Z" fill="#bcbec0"/><path d="M3.1 32.55L6.97 29.74L10.57 23.95L13.61 15.47L15.37 7.68L17.02 3.22L18.35 2.26L20.09 4.58L21.54 10.6L22.98 17.25L25.49 23.49L28.49 29.32L31.84 32.59L37.04 34.28L43.9 36.06L51.83 36.44L65 36.74" fill="none" stroke="#231f20" stroke-width="1.3" stroke-linejoin="round" stroke-linecap="round"/></g>
</svg>
<svg x="487.4" y="217.8" width="63.4" height="37.14" viewBox="487.4 217.8 63.4 37.14" overflow="hidden">
<g transform="translate(487.4 217.8)"><path d="M0 33.35 L0.8 33.05L2.7 32.33L5.04 29.61L7.22 28.01L8.56 23.49L10.62 16.73L12.43 10.87L13.93 5.49L15.33 2.25L17.12 4.48L18.6 9.41L20.11 14.86L21.83 20.21L23.99 24.27L26.02 26.67L27.78 29.96L30.49 32.38L33.98 33.87L38.22 35.9L44.35 36.51L62.2 36.74L62.2 37.14 L0 37.14 Z" fill="#d1d3d4"/><path d="M1.9 33.05L3.88 32.33L6.32 29.61L8.58 28.01L9.97 23.49L12.12 16.73L14 10.87L15.56 5.49L17.01 2.25L18.87 4.48L20.42 9.41L21.99 14.86L23.78 20.21L26.02 24.27L28.14 26.67L29.96 29.96L32.78 32.38L36.41 33.87L40.82 35.9L47.2 36.51L65.76 36.74" fill="none" stroke="#231f20" stroke-width="1.3" stroke-linejoin="round" stroke-linecap="round"/></g>
</svg>
<svg x="550.8" y="217.8" width="63.2" height="37.14" viewBox="550.8 217.8 63.2 37.14" overflow="hidden">
<g transform="translate(550.8 217.8)"><path d="M0.4 27.66 L1.2 27.36L3.11 25.54L5.78 22.42L7.59 19.84L9.19 13.93L10.52 11.84L12.22 6.34L13.61 3.53L14.93 2.28L16.01 3.61L17.16 9.49L18.32 14.59L19.61 21.11L20.96 23.85L23.46 27.35L26.04 29.32L28.4 32.72L30.95 34.8L33.36 35.95L39.05 36.26L61.8 36.74L61.8 37.14 L0.4 37.14 Z" fill="#bcbec0"/><path d="M1.2 32.05L3.7 31.55L6.2 27.56L8.6 22.06L10.6 16.17L12.6 9.19L14.1 4.29L15.6 2.8L17.1 4.29L18.6 8.69L20.1 14.18L21.5 18.17L23 21.17L25 20.47L26.5 23.56L28.5 26.56L30.5 29.55L33 31.55L36.4 33.05L38.9 35.04L41.4 36.34L44.9 36.74L62 36.74" fill="none" stroke="#231f20" stroke-width="1.3" stroke-linejoin="round" stroke-linecap="round"/></g>
</svg>
<svg x="424.2" y="254.94" width="63.2" height="37.14" viewBox="424.2 254.94 63.2 37.14" overflow="hidden">
<g transform="translate(424.2 254.94)"><path d="M0 32.85 L0.8 32.55C1.47 32.08 3.57 31.18 4.8 29.77C6.02 28.36 7.06 26.42 8.13 24.1C9.19 21.78 10.32 18.53 11.18 15.84C12.04 13.15 12.67 10.01 13.28 7.96C13.89 5.9 14.41 4.45 14.84 3.49C15.27 2.52 15.4 1.96 15.86 2.15C16.32 2.34 17.07 3.23 17.6 4.61C18.14 5.99 18.53 8.33 19.07 10.43C19.6 12.53 20.12 15.02 20.81 17.21C21.51 19.39 22.37 21.52 23.23 23.54C24.09 25.55 24.91 27.79 25.97 29.3C27.03 30.81 28.11 31.77 29.57 32.61C31.03 33.44 32.75 33.78 34.74 34.32C36.73 34.85 39.04 35.41 41.52 35.8C44 36.18 46.11 36.47 49.64 36.63C53.17 36.78 60.52 36.72 62.7 36.74L62.7 37.14 L0 37.14 Z" fill="#bcbec0"/><path d="M0.8 32.55C1.47 32.08 3.57 31.18 4.8 29.77C6.02 28.36 7.06 26.42 8.13 24.1C9.19 21.78 10.32 18.53 11.18 15.84C12.04 13.15 12.67 10.01 13.28 7.96C13.89 5.9 14.41 4.45 14.84 3.49C15.27 2.52 15.4 1.96 15.86 2.15C16.32 2.34 17.07 3.23 17.6 4.61C18.14 5.99 18.53 8.33 19.07 10.43C19.6 12.53 20.12 15.02 20.81 17.21C21.51 19.39 22.37 21.52 23.23 23.54C24.09 25.55 24.91 27.79 25.97 29.3C27.03 30.81 28.11 31.77 29.57 32.61C31.03 33.44 32.75 33.78 34.74 34.32C36.73 34.85 39.04 35.41 41.52 35.8C44 36.18 46.11 36.47 49.64 36.63C53.17 36.78 60.52 36.72 62.7 36.74" fill="none" stroke="#231f20" stroke-width="1.3" stroke-linejoin="round" stroke-linecap="round"/></g>
</svg>
<svg x="487.4" y="254.94" width="63.4" height="37.14" viewBox="487.4 254.94 63.4 37.14" overflow="hidden">
<g transform="translate(487.4 254.94)"><path d="M0 33.35 L0.8 33.05L2.57 32.15L5 29.52L7.25 28.33L8.36 23.4L10.46 16.53L12.62 10.92L13.86 5.99L15.36 2.47L17.15 4.38L18.39 9.42L20.13 14.83L21.84 20.27L23.98 24.12L25.85 26.32L27.79 29.91L30.3 32.34L33.79 33.89L38.15 35.75L44.21 36.57L62.2 36.74L62.2 37.14 L0 37.14 Z" fill="#d1d3d4"/><path d="M0.8 33.05L2.57 32.15L5 29.52L7.25 28.33L8.36 23.4L10.46 16.53L12.62 10.92L13.86 5.99L15.36 2.47L17.15 4.38L18.39 9.42L20.13 14.83L21.84 20.27L23.98 24.12L25.85 26.32L27.79 29.91L30.3 32.34L33.79 33.89L38.15 35.75L44.21 36.57L62.2 36.74" fill="none" stroke="#231f20" stroke-width="1.3" stroke-linejoin="round" stroke-linecap="round"/></g>
</svg>
<svg x="550.8" y="254.94" width="63.2" height="37.14" viewBox="550.8 254.94 63.2 37.14" overflow="hidden">
<g transform="translate(550.8 254.94)"><path d="M0.4 27.66 L1.2 27.36L3.33 25.28L5.83 22.4L7.72 19.89L9.08 13.96L10.73 11.44L12.14 6.49L13.55 3.27L14.89 2.49L15.99 3.87L16.97 9.52L18.32 14.8L19.71 20.95L21.07 23.92L23.43 26.85L25.95 29.76L28.5 32.35L31.12 34.63L33.64 35.71L39.02 36.28L61.8 36.74L61.8 37.14 L0.4 37.14 Z" fill="#bcbec0"/><path d="M1.2 27.36L3.33 25.28L5.83 22.4L7.72 19.89L9.08 13.96L10.73 11.44L12.14 6.49L13.55 3.27L14.89 2.49L15.99 3.87L16.97 9.52L18.32 14.8L19.71 20.95L21.07 23.92L23.43 26.85L25.95 29.76L28.5 32.35L31.12 34.63L33.64 35.71L39.02 36.28L61.8 36.74" fill="none" stroke="#231f20" stroke-width="1.3" stroke-linejoin="round" stroke-linecap="round"/></g>
</svg>
<svg x="424.2" y="292.08" width="63.2" height="37.14" viewBox="424.2 292.08 63.2 37.14" overflow="hidden">
<g transform="translate(424.2 292.08)"><path d="M0 32.85 L0.8 32.55C1.45 32.07 3.49 31.07 4.71 29.65C5.94 28.24 7.07 26.4 8.14 24.05C9.2 21.69 10.24 18.27 11.11 15.53C11.98 12.79 12.73 9.6 13.35 7.61C13.97 5.62 14.4 4.52 14.83 3.59C15.26 2.67 15.48 1.82 15.94 2.06C16.39 2.29 17.03 3.57 17.57 5.03C18.1 6.49 18.64 8.75 19.14 10.82C19.64 12.89 19.9 15.3 20.55 17.46C21.21 19.61 22.15 21.85 23.05 23.75C23.95 25.64 24.86 27.34 25.95 28.84C27.04 30.34 28.17 31.83 29.61 32.75C31.05 33.67 32.61 33.78 34.58 34.36C36.55 34.93 38.95 35.82 41.42 36.19C43.88 36.56 45.84 36.49 49.39 36.58C52.94 36.68 60.48 36.71 62.7 36.74L62.7 37.14 L0 37.14 Z" fill="#bcbec0"/><path d="M0.8 32.55C1.45 32.07 3.49 31.07 4.71 29.65C5.94 28.24 7.07 26.4 8.14 24.05C9.2 21.69 10.24 18.27 11.11 15.53C11.98 12.79 12.73 9.6 13.35 7.61C13.97 5.62 14.4 4.52 14.83 3.59C15.26 2.67 15.48 1.82 15.94 2.06C16.39 2.29 17.03 3.57 17.57 5.03C18.1 6.49 18.64 8.75 19.14 10.82C19.64 12.89 19.9 15.3 20.55 17.46C21.21 19.61 22.15 21.85 23.05 23.75C23.95 25.64 24.86 27.34 25.95 28.84C27.04 30.34 28.17 31.83 29.61 32.75C31.05 33.67 32.61 33.78 34.58 34.36C36.55 34.93 38.95 35.82 41.42 36.19C43.88 36.56 45.84 36.49 49.39 36.58C52.94 36.68 60.48 36.71 62.7 36.74" fill="none" stroke="#231f20" stroke-width="1.3" stroke-linejoin="round" stroke-linecap="round"/></g>
</svg>
<svg x="487.4" y="292.08" width="63.4" height="37.14" viewBox="487.4 292.08 63.4 37.14" overflow="hidden">
<g transform="translate(487.4 292.08)"><path d="M0 33.35 L0.8 33.05L2.68 31.86L5.01 29.68L6.98 27.8L8.5 23.63L10.41 16.54L12.56 10.75L14.02 5.98L15.17 2.12L16.97 4.43L18.37 9.82L19.95 14.86L22.01 20.37L23.75 24.06L25.89 26.8L27.83 30.27L30.5 32.16L33.8 33.97L38.33 35.57L44.31 36.14L62.2 36.74L62.2 37.14 L0 37.14 Z" fill="#d1d3d4"/><path d="M0.8 33.05L2.68 31.86L5.01 29.68L6.98 27.8L8.5 23.63L10.41 16.54L12.56 10.75L14.02 5.98L15.17 2.12L16.97 4.43L18.37 9.82L19.95 14.86L22.01 20.37L23.75 24.06L25.89 26.8L27.83 30.27L30.5 32.16L33.8 33.97L38.33 35.57L44.31 36.14L62.2 36.74" fill="none" stroke="#231f20" stroke-width="1.3" stroke-linejoin="round" stroke-linecap="round"/></g>
</svg>
<svg x="550.8" y="292.08" width="63.2" height="37.14" viewBox="550.8 292.08 63.2 37.14" overflow="hidden">
<g transform="translate(550.8 292.08)"><path d="M0.4 27.66 L1.2 27.36L3.2 25.53L5.76 22.34L7.71 19.86L9.16 14.07L10.68 11.61L12.21 6.03L13.6 3.57L14.91 2.3L15.96 3.82L17.02 9.96L18.18 14.49L19.7 21.02L20.98 23.78L23.41 27.18L26.03 29.26L28.51 32.59L30.88 34.87L33.57 36.16L38.79 36.27L61.8 36.74L61.8 37.14 L0.4 37.14 Z" fill="#bcbec0"/><path d="M0.87 27.36L2.98 25.53L5.67 22.34L7.71 19.86L9.24 14.07L10.82 11.61L12.44 6.03L13.89 3.57L15.27 2.3L16.37 3.82L17.48 9.96L18.7 14.49L20.29 21.02L21.64 23.78L24.19 27.18L26.95 29.26L29.55 32.59L32.04 34.87L34.86 36.16L40.34 36.27L64.5 36.74" fill="none" stroke="#231f20" stroke-width="1.3" stroke-linejoin="round" stroke-linecap="round"/></g>
</svg>
<svg x="424.2" y="329.22" width="63.2" height="37.14" viewBox="424.2 329.22 63.2 37.14" overflow="hidden">
<g transform="translate(424.2 329.22)"><path d="M0 32.85 L0.8 32.55C1.47 32.05 3.59 30.98 4.8 29.55C6.01 28.11 7.04 26.25 8.09 23.93C9.14 21.61 10.22 18.32 11.09 15.62C11.96 12.92 12.7 9.83 13.31 7.74C13.91 5.65 14.29 3.97 14.72 3.08C15.15 2.2 15.38 2.13 15.9 2.44C16.42 2.76 17.29 3.63 17.83 4.99C18.38 6.35 18.7 8.55 19.18 10.62C19.66 12.68 20.03 15.23 20.71 17.38C21.38 19.52 22.34 21.53 23.23 23.5C24.12 25.47 25 27.74 26.05 29.22C27.1 30.7 28.1 31.51 29.55 32.39C31 33.27 32.73 33.88 34.74 34.51C36.76 35.13 39.15 35.75 41.62 36.12C44.1 36.49 46.09 36.63 49.6 36.73C53.12 36.83 60.52 36.74 62.7 36.74L62.7 37.14 L0 37.14 Z" fill="#bcbec0"/><path d="M0.8 32.55C1.47 32.05 3.59 30.98 4.8 29.55C6.01 28.11 7.04 26.25 8.09 23.93C9.14 21.61 10.22 18.32 11.09 15.62C11.96 12.92 12.7 9.83 13.31 7.74C13.91 5.65 14.29 3.97 14.72 3.08C15.15 2.2 15.38 2.13 15.9 2.44C16.42 2.76 17.29 3.63 17.83 4.99C18.38 6.35 18.7 8.55 19.18 10.62C19.66 12.68 20.03 15.23 20.71 17.38C21.38 19.52 22.34 21.53 23.23 23.5C24.12 25.47 25 27.74 26.05 29.22C27.1 30.7 28.1 31.51 29.55 32.39C31 33.27 32.73 33.88 34.74 34.51C36.76 35.13 39.15 35.75 41.62 36.12C44.1 36.49 46.09 36.63 49.6 36.73C53.12 36.83 60.52 36.74 62.7 36.74" fill="none" stroke="#231f20" stroke-width="1.3" stroke-linejoin="round" stroke-linecap="round"/></g>
</svg>
<svg x="487.4" y="329.22" width="63.4" height="37.14" viewBox="487.4 329.22 63.4 37.14" overflow="hidden">
<g transform="translate(487.4 329.22)"><path d="M0 33.35 L0.8 33.05L2.61 31.78L5.23 29.83L7.08 27.9L8.46 23.64L10.37 16.69L12.5 10.64L13.89 5.5L15.38 2.58L17.04 4.55L18.62 9.87L19.86 14.91L21.83 20.25L23.83 24.17L26.03 26.58L27.83 30.12L30.38 32.36L33.84 34.32L38.34 35.53L44.33 36.21L62.2 36.74L62.2 37.14 L0 37.14 Z" fill="#d1d3d4"/><path d="M0.8 33.05L2.61 31.78L5.23 29.83L7.08 27.9L8.46 23.64L10.37 16.69L12.5 10.64L13.89 5.5L15.38 2.58L17.04 4.55L18.62 9.87L19.86 14.91L21.83 20.25L23.83 24.17L26.03 26.58L27.83 30.12L30.38 32.36L33.84 34.32L38.34 35.53L44.33 36.21L62.2 36.74" fill="none" stroke="#231f20" stroke-width="1.3" stroke-linejoin="round" stroke-linecap="round"/></g>
</svg>
<svg x="550.8" y="329.22" width="63.2" height="37.14" viewBox="550.8 329.22 63.2 37.14" overflow="hidden">
<g transform="translate(550.8 329.22)"><path d="M0.4 27.66 L1.2 27.36L3.2 25.83L5.69 22.42L7.49 19.69L8.99 13.95L10.57 11.56L12.02 6.16L13.61 3.05L14.93 2.5L16.15 3.84L17.16 9.51L18.31 14.65L19.59 21.23L21.02 23.95L23.5 26.89L26.03 29.48L28.46 32.26L30.92 34.96L33.5 35.98L39.05 36.41L61.8 36.74L61.8 37.14 L0.4 37.14 Z" fill="#bcbec0"/><path d="M1.2 27.36L3.2 25.83L5.69 22.42L7.49 19.69L8.99 13.95L10.57 11.56L12.02 6.16L13.61 3.05L14.93 2.5L16.15 3.84L17.16 9.51L18.31 14.65L19.59 21.23L21.02 23.95L23.5 26.89L26.03 29.48L28.46 32.26L30.92 34.96L33.5 35.98L39.05 36.41L61.8 36.74" fill="none" stroke="#231f20" stroke-width="1.3" stroke-linejoin="round" stroke-linecap="round"/></g>
</svg>
<path d="M423.4 32.1H614.8" stroke="#231f20" stroke-width="1.6" fill="none"/>
<path d="M423.4 69.24H614.8" stroke="#231f20" stroke-width="1.6" fill="none"/>
<path d="M423.4 106.38H614.8" stroke="#231f20" stroke-width="1.6" fill="none"/>
<path d="M423.4 143.52H614.8" stroke="#231f20" stroke-width="1.6" fill="none"/>
<path d="M423.4 180.66H614.8" stroke="#231f20" stroke-width="1.6" fill="none"/>
<path d="M423.4 217.8H614.8" stroke="#231f20" stroke-width="1.6" fill="none"/>
<path d="M423.4 254.94H614.8" stroke="#231f20" stroke-width="1.6" fill="none"/>
<path d="M423.4 292.08H614.8" stroke="#231f20" stroke-width="1.6" fill="none"/>
<path d="M423.4 329.22H614.8" stroke="#231f20" stroke-width="1.6" fill="none"/>
<path d="M423.4 366.36H614.8" stroke="#231f20" stroke-width="1.6" fill="none"/>
<path d="M424.2 31.3V367.16" stroke="#231f20" stroke-width="1.6" fill="none"/>
<path d="M487.4 31.3V367.16" stroke="#231f20" stroke-width="1.6" fill="none"/>
<path d="M550.8 31.3V367.16" stroke="#231f20" stroke-width="2" fill="none"/>
<path d="M614 31.3V367.16" stroke="#231f20" stroke-width="1.6" fill="none"/>
<text x="3.4" y="15" class="b" text-anchor="start">a</text>
<text x="168.4" y="9.2" class="i" text-anchor="middle">M. tuberculosis</text>
<text x="131.8" y="24.2" class="t" text-anchor="middle">H37Rv</text>
<text x="195.1" y="24.2" class="t" text-anchor="middle">H37Ra</text>
<text x="256.6" y="9.2" class="i" text-anchor="middle">M. bovis</text>
<text x="256.6" y="24.2" class="t" text-anchor="middle">BCG</text>
<text x="90.8" y="53.6" class="r" text-anchor="end">CLEC2</text>
<text x="90.8" y="89.8" class="r" text-anchor="end">Mincle</text>
<text x="90.8" y="126.7" class="r" text-anchor="end">Dectin-1</text>
<text x="90.8" y="163.65" class="r" text-anchor="end">Dectin-2</text>
<text x="90.8" y="200.85" class="r" text-anchor="end">CLEC9A</text>
<text x="90.8" y="237.6" class="r" text-anchor="end">MGL1</text>
<text x="90.8" y="275" class="r" text-anchor="end">SIGNR1</text>
<text x="90.8" y="312.2" class="r" text-anchor="end">SIGNR3</text>
<text x="90.8" y="349.3" class="r" text-anchor="end">DCAR</text>
<text x="90.8" y="386.4" class="r" text-anchor="end">CLEC5A</text>
<text x="90.8" y="423.5" class="r" text-anchor="end">DC-SIGN</text>
<text x="-0.3" y="239.3" class="g" text-anchor="start">CLRs</text>
<path d="M36.3 40.5V429.2" stroke="#231f20" stroke-width="1.6" fill="none"/>
<text x="98.7" y="454.6" class="g" text-anchor="start">FITC</text>
<path d="M129.3 451.8H171.8" stroke="#231f20" stroke-width="2.6" fill="none"/>
<path d="M180.3 451.8L171.3 447.2L171.3 456.4Z" fill="#231f20"/>
<text transform="translate(305.4 439.8) rotate(-90)" class="t" text-anchor="start">Counts</text>
<path d="M300.8 395V352.3" stroke="#231f20" stroke-width="2.6" fill="none"/>
<path d="M300.8 343.8L296.2 352.8L305.4 352.8Z" fill="#231f20"/>
<text x="495" y="9.6" class="i" text-anchor="middle">M. tuberculosis</text>
<text x="456.1" y="24.6" class="t" text-anchor="middle">H37Rv</text>
<text x="519.2" y="24.6" class="t" text-anchor="middle">H37Ra</text>
<text x="581.9" y="9.6" class="i" text-anchor="middle">M. bovis</text>
<text x="582.2" y="24.6" class="t" text-anchor="middle">BCG</text>
<text x="415.3" y="52.7" class="r" text-anchor="end">TREM1</text>
<text x="415.3" y="89.84" class="r" text-anchor="end">TREM2</text>
<text x="415.3" y="126.98" class="r" text-anchor="end">TREM3</text>
<text x="415.3" y="164.12" class="r" text-anchor="end">LMIR2</text>
<text x="415.3" y="201.26" class="r" text-anchor="end">LMIR4</text>
<text x="415.3" y="238.4" class="r" text-anchor="end">LMIR5</text>
<text x="415.3" y="275.54" class="r" text-anchor="end">LMIR7</text>
<text x="415.3" y="312.68" class="r" text-anchor="end">LMIR8</text>
<text x="415.3" y="349.82" class="r" text-anchor="end">Control</text>
<text x="362" y="90" class="r" text-anchor="end">TREMs</text>
<text x="362.7" y="238" class="r" text-anchor="end">LMIRs</text>
<path d="M367 37.2V140.4" stroke="#231f20" stroke-width="1.6" fill="none"/>
<path d="M367 151.5V325" stroke="#231f20" stroke-width="1.6" fill="none"/>
<text x="425" y="381" class="g" text-anchor="start">FITC</text>
<path d="M456.4 377.4H499.5" stroke="#231f20" stroke-width="2.6" fill="none"/>
<path d="M508 377.4L499 372.8L499 382Z" fill="#231f20"/>
<text transform="translate(630.5 364.8) rotate(-90)" class="t" text-anchor="start">Counts</text>
<path d="M626.5 322V280" stroke="#231f20" stroke-width="2.6" fill="none"/>
<path d="M626.5 271.5L621.9 280.5L631.1 280.5Z" fill="#231f20"/>
<text x="-0.7" y="485.8" class="b" text-anchor="start">b</text>
<svg x="110.5" y="499.9" width="55.7" height="58.1" viewBox="110.5 499.9 55.7 58.1" overflow="hidden">
<g transform="translate(110.5 499.9)"><path d="M0.5 56.49 L1.3 56.19L2.5 48.78L3.6 36.81L4.6 21.91L5.6 11.97L6.2 7.5L7.1 9.94L8.1 16.94L9.3 24.85L10.6 33.87L11.8 40.77L13.2 45.74L15.2 48.28L17.2 51.52L19.1 51.72L22.1 53.55L26 55.78L29.9 57L54 57.2L54 58.1 L0.5 58.1 Z" fill="#bcbec0"/><path d="M1.3 56.19L2.5 48.78L3.6 36.81L4.6 21.91L5.6 11.97L6.2 7.5L7.1 9.94L8.1 16.94L9.3 24.85L10.6 33.87L11.8 40.77L13.2 45.74L15.2 48.28L17.2 51.52L19.1 51.72L22.1 53.55L26 55.78L29.9 57L54 57.2" fill="none" stroke="#3b3838" stroke-width="0.85" stroke-linejoin="round" stroke-linecap="round"/></g>
</svg>
<rect x="111.28" y="500.67" width="54.15" height="56.55" fill="none" stroke="#231f20" stroke-width="1.55"/>
<svg x="110.5" y="559.1" width="55.7" height="57.9" viewBox="110.5 559.1 55.7 57.9" overflow="hidden">
<g transform="translate(110.5 559.1)"><path d="M1.2 56.59 L2 56.29L4.4 52.35L6.9 46.39L8.3 37.49L9.5 27.59L10.8 16.68L12.1 10.21L12.8 7.78L13.7 12.73L14.7 17.69L15.7 27.59L17 37.49L18.4 46.39L19.9 51.34L22.1 55.38L25 56.8L54 57L54 57.9 L1.2 57.9 Z" fill="#bcbec0"/><path d="M2 56.29L4.4 52.35L6.9 46.39L8.3 37.49L9.5 27.59L10.8 16.68L12.1 10.21L12.8 7.78L13.7 12.73L14.7 17.69L15.7 27.59L17 37.49L18.4 46.39L19.9 51.34L22.1 55.38L25 56.8L54 57" fill="none" stroke="#3b3838" stroke-width="0.85" stroke-linejoin="round" stroke-linecap="round"/></g>
</svg>
<rect x="111.28" y="559.88" width="54.15" height="56.35" fill="none" stroke="#231f20" stroke-width="1.55"/>
<svg x="168.25" y="499.9" width="55.7" height="58.1" viewBox="168.25 499.9 55.7 58.1" overflow="hidden">
<g transform="translate(168.25 499.9)"><path d="M0.9 56.99 L1.7 56.69L2.8 44.83L4.1 26.88L5.4 11.97L6.2 7L7.4 10.95L8.5 16.94L9.7 23.93L11 32.86L12.5 40.77L14.4 46.75L16.9 50.71L20.3 52.74L24.2 55.27L29.1 56.9L54 57.3L54 58.1 L0.9 58.1 Z" fill="#d1d3d4"/><path d="M2.6 56.69L4.6 53.75L6.6 49.29L8.2 45.74L10 45.33L11.5 42.29L12.5 38.84L14.4 37.32L15.4 38.84L16.4 32.86L17.1 29.31L17.9 31.34L19.1 26.88L20.3 28.4L21.3 24.34L22.5 23.43L23.3 25.86L24.2 21.91L25.4 17.95L26.7 16.94L28.2 13.39L29.3 15.42L30.1 20.89L30.6 25.35L31.6 24.34L32.6 30.83L33.6 37.83L35 45.74L36.5 51.72L38 55.27L39.4 57" fill="none" stroke="#231f20" stroke-width="1" stroke-linejoin="round" stroke-linecap="round"/></g>
</svg>
<rect x="169.03" y="500.67" width="54.15" height="56.55" fill="none" stroke="#231f20" stroke-width="1.55"/>
<svg x="168.25" y="559.1" width="55.7" height="57.9" viewBox="168.25 559.1 55.7 57.9" overflow="hidden">
<g transform="translate(168.25 559.1)"><path d="M1.4 56.59 L2.2 56.29L4.6 52.35L7.1 46.39L8.5 37.49L9.7 27.59L11 16.68L12.3 10.21L13 7.78L13.9 12.73L14.9 17.69L15.9 27.59L17.2 37.49L18.6 46.39L20.1 51.34L22.3 55.38L25.2 56.8L54.2 57L54.2 57.9 L1.4 57.9 Z" fill="#bcbec0"/><path d="M2.2 56.29L4.6 52.35L7.1 46.39L8.5 37.49L9.7 27.59L11 16.68L12.3 10.21L13 7.78L13.9 12.73L14.9 17.69L15.9 27.59L17.2 37.49L18.6 46.39L20.1 51.34L22.3 55.38L25.2 56.8L54.2 57" fill="none" stroke="#3b3838" stroke-width="0.85" stroke-linejoin="round" stroke-linecap="round"/></g>
</svg>
<rect x="169.03" y="559.88" width="54.15" height="56.35" fill="none" stroke="#231f20" stroke-width="1.55"/>
<svg x="225.95" y="499.9" width="55.7" height="58.1" viewBox="225.95 499.9 55.7 58.1" overflow="hidden">
<g transform="translate(225.95 499.9)"><path d="M1.3 56.99 L2.1 56.69L3.2 44.83L4.5 26.88L5.8 11.97L6.6 7L7.8 10.95L8.9 16.94L10.1 23.93L11.4 32.86L12.9 40.77L14.8 46.75L17.3 50.71L20.7 52.74L24.6 55.27L29.5 56.9L54.4 57.3L54.4 58.1 L1.3 58.1 Z" fill="#d1d3d4"/><path d="M2 56.69L3.9 53.24L5.9 49.8L7.4 45.33L8.8 44.83L10.3 46.25L11.6 47.26L12.8 45.33L14.7 44.83L16.2 40.77L17.7 43.31L19.1 39.35L20.6 36.81L21.6 30.83L22.8 28.9L25 27.89L26 23.93L27.3 19.88L28.3 15.42L29.2 13.18L30.4 15.92L31.6 18.46L32.9 17.95L33.9 23.93L34.8 30.83L36.1 38.84L37.3 45.74L38.5 51.72L39.7 55.27L41.2 57" fill="none" stroke="#231f20" stroke-width="1" stroke-linejoin="round" stroke-linecap="round"/></g>
</svg>
<rect x="226.72" y="500.67" width="54.15" height="56.55" fill="none" stroke="#231f20" stroke-width="1.55"/>
<svg x="225.95" y="559.1" width="55.7" height="57.9" viewBox="225.95 559.1 55.7 57.9" overflow="hidden">
<g transform="translate(225.95 559.1)"><path d="M2 56.59 L2.8 56.29L5.2 52.35L7.7 46.39L9.1 37.49L10.3 27.59L11.6 16.68L12.9 10.21L13.6 7.78L14.5 12.73L15.5 17.69L16.5 27.59L17.8 37.49L19.2 46.39L20.7 51.34L22.9 55.38L25.8 56.8L54.8 57L54.8 57.9 L2 57.9 Z" fill="#bcbec0"/><path d="M2.8 56.29L5.2 52.35L7.7 46.39L9.1 37.49L10.3 27.59L11.6 16.68L12.9 10.21L13.6 7.78L14.5 12.73L15.5 17.69L16.5 27.59L17.8 37.49L19.2 46.39L20.7 51.34L22.9 55.38L25.8 56.8L54.8 57" fill="none" stroke="#3b3838" stroke-width="0.85" stroke-linejoin="round" stroke-linecap="round"/></g>
</svg>
<rect x="226.72" y="559.88" width="54.15" height="56.35" fill="none" stroke="#231f20" stroke-width="1.55"/>
<svg x="283.7" y="499.9" width="55.7" height="58.1" viewBox="283.7 499.9 55.7 58.1" overflow="hidden">
<g transform="translate(283.7 499.9)"><path d="M1.4 56.99 L2.2 56.69L3.3 44.83L4.6 26.88L5.9 11.97L6.7 7L7.9 10.95L9 16.94L10.2 23.93L11.5 32.86L13 40.77L14.9 46.75L17.4 50.71L20.8 52.74L24.7 55.27L29.6 56.9L54.5 57.3L54.5 58.1 L1.4 58.1 Z" fill="#d1d3d4"/><path d="M2.4 56.69L3.6 51.72L4.9 43.81L6.1 36.81L7.1 26.88L7.9 17.95L8.7 12.47L10 14.91L11.2 14.4L12.5 17.95L13.4 20.89L14.1 24.34L15.1 22.92L16.4 25.86L17.7 24.85L18.6 27.38L19.6 23.12L20.8 30.83L22.3 26.88L23.7 23.12L24.9 30.83L26.7 31.85L27.7 34.79L28.9 34.69L29.8 39.86L30.8 43.81L32.1 45.74L33.4 51.72L35 54.26L37 56.49L39 57.1" fill="none" stroke="#231f20" stroke-width="1" stroke-linejoin="round" stroke-linecap="round"/></g>
</svg>
<rect x="284.47" y="500.67" width="54.15" height="56.55" fill="none" stroke="#231f20" stroke-width="1.55"/>
<svg x="283.7" y="559.1" width="55.7" height="57.9" viewBox="283.7 559.1 55.7 57.9" overflow="hidden">
<g transform="translate(283.7 559.1)"><path d="M2.8 56.59 L3.6 56.29L6 52.35L8.5 46.39L9.9 37.49L11.1 27.59L12.4 16.68L13.7 10.21L14.4 7.78L15.3 12.73L16.3 17.69L17.3 27.59L18.6 37.49L20 46.39L21.5 51.34L23.7 55.38L26.6 56.8L55.6 57L55.6 57.9 L2.8 57.9 Z" fill="#bcbec0"/><path d="M3.6 56.29L6 52.35L8.5 46.39L9.9 37.49L11.1 27.59L12.4 16.68L13.7 10.21L14.4 7.78L15.3 12.73L16.3 17.69L17.3 27.59L18.6 37.49L20 46.39L21.5 51.34L23.7 55.38L26.6 56.8L55.6 57" fill="none" stroke="#3b3838" stroke-width="0.85" stroke-linejoin="round" stroke-linecap="round"/></g>
</svg>
<rect x="284.47" y="559.88" width="54.15" height="56.35" fill="none" stroke="#231f20" stroke-width="1.55"/>
<text x="138.4" y="493" class="t" text-anchor="middle">–</text>
<text x="223.65" y="480.2" class="i" text-anchor="middle">M. tuberculosis</text>
<text x="193.1" y="495.2" class="t" text-anchor="middle">H37Rv</text>
<text x="250.6" y="495.2" class="t" text-anchor="middle">H37Ra</text>
<text x="309.25" y="480.2" class="i" text-anchor="middle">M. bovis</text>
<text x="309.8" y="495.2" class="t" text-anchor="middle">BCG</text>
<text x="87.4" y="536.2" class="r" text-anchor="end">TREM2+DAP12</text>
<text x="87.4" y="592.6" class="r" text-anchor="end">DAP12</text>
<text transform="translate(105 614.6) rotate(-90)" class="t" text-anchor="start">Counts</text>
<path d="M101.3 570V527.7" stroke="#231f20" stroke-width="2.6" fill="none"/>
<path d="M101.3 519.2L96.7 528.2L105.9 528.2Z" fill="#231f20"/>
<text x="112.2" y="629.9" class="g" text-anchor="start">GFP</text>
<path d="M140.5 626.3H183.3" stroke="#231f20" stroke-width="2.6" fill="none"/>
<path d="M191.8 626.3L182.8 621.7L182.8 630.9Z" fill="#231f20"/>
<path d="M404.6 509.7V595.9H503" stroke="#231f20" stroke-width="1.4" fill="none"/>
<path d="M400 595.9H404.6" stroke="#231f20" stroke-width="1.4"/>
<text x="396.8" y="599.8" class="k" text-anchor="end">0</text>
<path d="M400 567.4H404.6" stroke="#231f20" stroke-width="1.4"/>
<text x="396.8" y="571.3" class="k" text-anchor="end">200</text>
<path d="M400 538.9H404.6" stroke="#231f20" stroke-width="1.4"/>
<text x="396.8" y="542.8" class="k" text-anchor="end">400</text>
<path d="M400 510.4H404.6" stroke="#231f20" stroke-width="1.4"/>
<text x="396.8" y="514.3" class="k" text-anchor="end">600</text>
<path d="M404.6 595.9V600.5" stroke="#231f20" stroke-width="1.4"/>
<text x="405.05" y="613.2" class="k" text-anchor="middle">0</text>
<path d="M424.14 595.9V600.5" stroke="#231f20" stroke-width="1.4"/>
<text x="424.59" y="613.2" class="k" text-anchor="middle">20</text>
<path d="M443.68 595.9V600.5" stroke="#231f20" stroke-width="1.4"/>
<text x="444.13" y="613.2" class="k" text-anchor="middle">40</text>
<path d="M463.22 595.9V600.5" stroke="#231f20" stroke-width="1.4"/>
<text x="463.67" y="613.2" class="k" text-anchor="middle">60</text>
<path d="M482.76 595.9V600.5" stroke="#231f20" stroke-width="1.4"/>
<text x="483.21" y="613.2" class="k" text-anchor="middle">80</text>
<path d="M502.3 595.9V600.5" stroke="#231f20" stroke-width="1.4"/>
<text x="502.75" y="613.2" class="k" text-anchor="middle">100</text>
<text x="455.5" y="493.6" class="g" text-anchor="middle">TREM2+DAP12</text>
<path d="M429.03 552.01V544.17M424.63 544.17H433.43" stroke="#231f20" stroke-width="1.4" fill="none"/>
<path d="M453.45 532.06V523.23M449.05 523.23H457.85" stroke="#231f20" stroke-width="1.4" fill="none"/>
<path d="M453.45 532.06V540.32M449.05 540.32H457.85" stroke="#231f20" stroke-width="1.4" fill="none"/>
<path d="M404.6 595.9L410.71 575.52L416.81 566.4L429.03 552.01L453.45 532.06L502.3 517.67" stroke="#231f20" stroke-width="1.4" fill="none"/>
<circle cx="404.6" cy="595.9" r="4.35" fill="#231f20" stroke="#231f20" stroke-width="1.65"/>
<circle cx="410.71" cy="575.52" r="4.35" fill="#231f20" stroke="#231f20" stroke-width="1.65"/>
<circle cx="416.81" cy="566.4" r="4.35" fill="#231f20" stroke="#231f20" stroke-width="1.65"/>
<circle cx="429.03" cy="552.01" r="4.35" fill="#231f20" stroke="#231f20" stroke-width="1.65"/>
<circle cx="453.45" cy="532.06" r="4.35" fill="#231f20" stroke="#231f20" stroke-width="1.65"/>
<circle cx="502.3" cy="517.67" r="4.35" fill="#231f20" stroke="#231f20" stroke-width="1.65"/>
<path d="M429.03 555.71V566.69M424.63 566.69H433.43" stroke="#231f20" stroke-width="1.4" fill="none"/>
<path d="M453.45 546.45V542.18M449.05 542.18H457.85" stroke="#231f20" stroke-width="1.4" fill="none"/>
<path d="M453.45 546.45V555.71M449.05 555.71H457.85" stroke="#231f20" stroke-width="1.4" fill="none"/>
<path d="M404.6 595.9L410.71 578.51L416.81 568.11L429.03 555.71L453.45 546.45L502.3 532.91" stroke="#231f20" stroke-width="1.4" fill="none"/>
<circle cx="404.6" cy="595.9" r="4.35" fill="#fff" stroke="#231f20" stroke-width="1.65"/>
<circle cx="410.71" cy="578.51" r="4.35" fill="#fff" stroke="#231f20" stroke-width="1.65"/>
<circle cx="416.81" cy="568.11" r="4.35" fill="#fff" stroke="#231f20" stroke-width="1.65"/>
<circle cx="429.03" cy="555.71" r="4.35" fill="#fff" stroke="#231f20" stroke-width="1.65"/>
<circle cx="453.45" cy="546.45" r="4.35" fill="#fff" stroke="#231f20" stroke-width="1.65"/>
<circle cx="502.3" cy="532.91" r="4.35" fill="#fff" stroke="#231f20" stroke-width="1.65"/>
<path d="M453.45 577.94V573.67M449.05 573.67H457.85" stroke="#231f20" stroke-width="1.4" fill="none"/>
<path d="M404.6 595.9L410.71 587.35L416.81 583.93L429.03 580.65L453.45 577.94L502.3 573.67" stroke="#231f20" stroke-width="1.4" fill="none"/>
<circle cx="404.6" cy="595.9" r="4.35" fill="#a7a9ac" stroke="#231f20" stroke-width="1.65"/>
<circle cx="410.71" cy="587.35" r="4.35" fill="#a7a9ac" stroke="#231f20" stroke-width="1.65"/>
<circle cx="416.81" cy="583.93" r="4.35" fill="#a7a9ac" stroke="#231f20" stroke-width="1.65"/>
<circle cx="429.03" cy="580.65" r="4.35" fill="#a7a9ac" stroke="#231f20" stroke-width="1.65"/>
<circle cx="453.45" cy="577.94" r="4.35" fill="#a7a9ac" stroke="#231f20" stroke-width="1.65"/>
<circle cx="502.3" cy="573.67" r="4.35" fill="#a7a9ac" stroke="#231f20" stroke-width="1.65"/>
<text transform="translate(371.9 550.8) rotate(-90)" class="g" text-anchor="middle">GFP (% increase)</text>
<text x="458.3" y="628.5" class="x" text-anchor="middle">Mycobacteria (μg/ml)</text>
<path d="M575.5 509.9V596.3H674.4" stroke="#231f20" stroke-width="1.4" fill="none"/>
<path d="M570.9 596.3H575.5" stroke="#231f20" stroke-width="1.4"/>
<text x="568.4" y="600.2" class="k" text-anchor="end">0</text>
<path d="M570.9 567.73H575.5" stroke="#231f20" stroke-width="1.4"/>
<text x="568.4" y="571.63" class="k" text-anchor="end">200</text>
<path d="M570.9 539.17H575.5" stroke="#231f20" stroke-width="1.4"/>
<text x="568.4" y="543.07" class="k" text-anchor="end">400</text>
<path d="M570.9 510.6H575.5" stroke="#231f20" stroke-width="1.4"/>
<text x="568.4" y="514.5" class="k" text-anchor="end">600</text>
<path d="M575.5 596.3V600.9" stroke="#231f20" stroke-width="1.4"/>
<text x="575.95" y="613.6" class="k" text-anchor="middle">0</text>
<path d="M595.14 596.3V600.9" stroke="#231f20" stroke-width="1.4"/>
<text x="595.59" y="613.6" class="k" text-anchor="middle">20</text>
<path d="M614.78 596.3V600.9" stroke="#231f20" stroke-width="1.4"/>
<text x="615.23" y="613.6" class="k" text-anchor="middle">40</text>
<path d="M634.42 596.3V600.9" stroke="#231f20" stroke-width="1.4"/>
<text x="634.87" y="613.6" class="k" text-anchor="middle">60</text>
<path d="M654.06 596.3V600.9" stroke="#231f20" stroke-width="1.4"/>
<text x="654.51" y="613.6" class="k" text-anchor="middle">80</text>
<path d="M673.7 596.3V600.9" stroke="#231f20" stroke-width="1.4"/>
<text x="674.15" y="613.6" class="k" text-anchor="middle">100</text>
<text x="623.7" y="493.6" class="g" text-anchor="middle">DAP12</text>
<path d="M575.5 596.44L581.64 596.44L587.77 596.44L600.05 596.44L624.6 596.44L673.7 596.44" stroke="#231f20" stroke-width="1.4" fill="none"/>
<circle cx="575.5" cy="596.44" r="4.35" fill="#231f20" stroke="#231f20" stroke-width="1.65"/>
<circle cx="581.64" cy="596.44" r="4.35" fill="#231f20" stroke="#231f20" stroke-width="1.65"/>
<circle cx="587.77" cy="596.44" r="4.35" fill="#231f20" stroke="#231f20" stroke-width="1.65"/>
<circle cx="600.05" cy="596.44" r="4.35" fill="#231f20" stroke="#231f20" stroke-width="1.65"/>
<circle cx="624.6" cy="596.44" r="4.35" fill="#231f20" stroke="#231f20" stroke-width="1.65"/>
<circle cx="673.7" cy="596.44" r="4.35" fill="#231f20" stroke="#231f20" stroke-width="1.65"/>
<path d="M575.5 596.44L581.64 596.44L587.77 596.44L600.05 596.44L624.6 596.44L673.7 596.44" stroke="#231f20" stroke-width="1.4" fill="none"/>
<circle cx="575.5" cy="596.44" r="4.35" fill="#fff" stroke="#231f20" stroke-width="1.65"/>
<circle cx="581.64" cy="596.44" r="4.35" fill="#fff" stroke="#231f20" stroke-width="1.65"/>
<circle cx="587.77" cy="596.44" r="4.35" fill="#fff" stroke="#231f20" stroke-width="1.65"/>
<circle cx="600.05" cy="596.44" r="4.35" fill="#fff" stroke="#231f20" stroke-width="1.65"/>
<circle cx="624.6" cy="596.44" r="4.35" fill="#fff" stroke="#231f20" stroke-width="1.65"/>
<circle cx="673.7" cy="596.44" r="4.35" fill="#fff" stroke="#231f20" stroke-width="1.65"/>
<path d="M575.5 596.44L581.64 596.44L587.77 596.44L600.05 596.44L624.6 596.44L673.7 596.44" stroke="#231f20" stroke-width="1.4" fill="none"/>
<circle cx="575.5" cy="596.44" r="4.35" fill="#a7a9ac" stroke="#231f20" stroke-width="1.65"/>
<circle cx="581.64" cy="596.44" r="4.35" fill="#a7a9ac" stroke="#231f20" stroke-width="1.65"/>
<circle cx="587.77" cy="596.44" r="4.35" fill="#a7a9ac" stroke="#231f20" stroke-width="1.65"/>
<circle cx="600.05" cy="596.44" r="4.35" fill="#a7a9ac" stroke="#231f20" stroke-width="1.65"/>
<circle cx="624.6" cy="596.44" r="4.35" fill="#a7a9ac" stroke="#231f20" stroke-width="1.65"/>
<circle cx="673.7" cy="596.44" r="4.35" fill="#a7a9ac" stroke="#231f20" stroke-width="1.65"/>
<text transform="translate(542.3 551.2) rotate(-90)" class="g" text-anchor="middle">GFP (% increase)</text>
<text x="627.6" y="628.7" class="x" text-anchor="middle">Mycobacteria (μg/ml)</text>
<path d="M613.3 524.3H636.4" stroke="#231f20" stroke-width="1.5"/>
<circle cx="624.9" cy="524.3" r="3.5" fill="#fff" stroke="#231f20" stroke-width="1.4"/>
<text x="638.6" y="527.7" class="lg" text-anchor="start">Mtb Rv</text>
<path d="M613.3 539.8H636.4" stroke="#231f20" stroke-width="1.5"/>
<circle cx="624.9" cy="539.8" r="3.5" fill="#231f20" stroke="#231f20" stroke-width="1.4"/>
<text x="638.6" y="543.2" class="lg" text-anchor="start">Mtb Ra</text>
<path d="M613.3 555.3H636.4" stroke="#231f20" stroke-width="1.5"/>
<circle cx="624.9" cy="555.3" r="3.5" fill="#a7a9ac" stroke="#231f20" stroke-width="1.4"/>
<text x="638.6" y="558.7" class="lg" text-anchor="start">BCG</text>
</svg></body></html>
